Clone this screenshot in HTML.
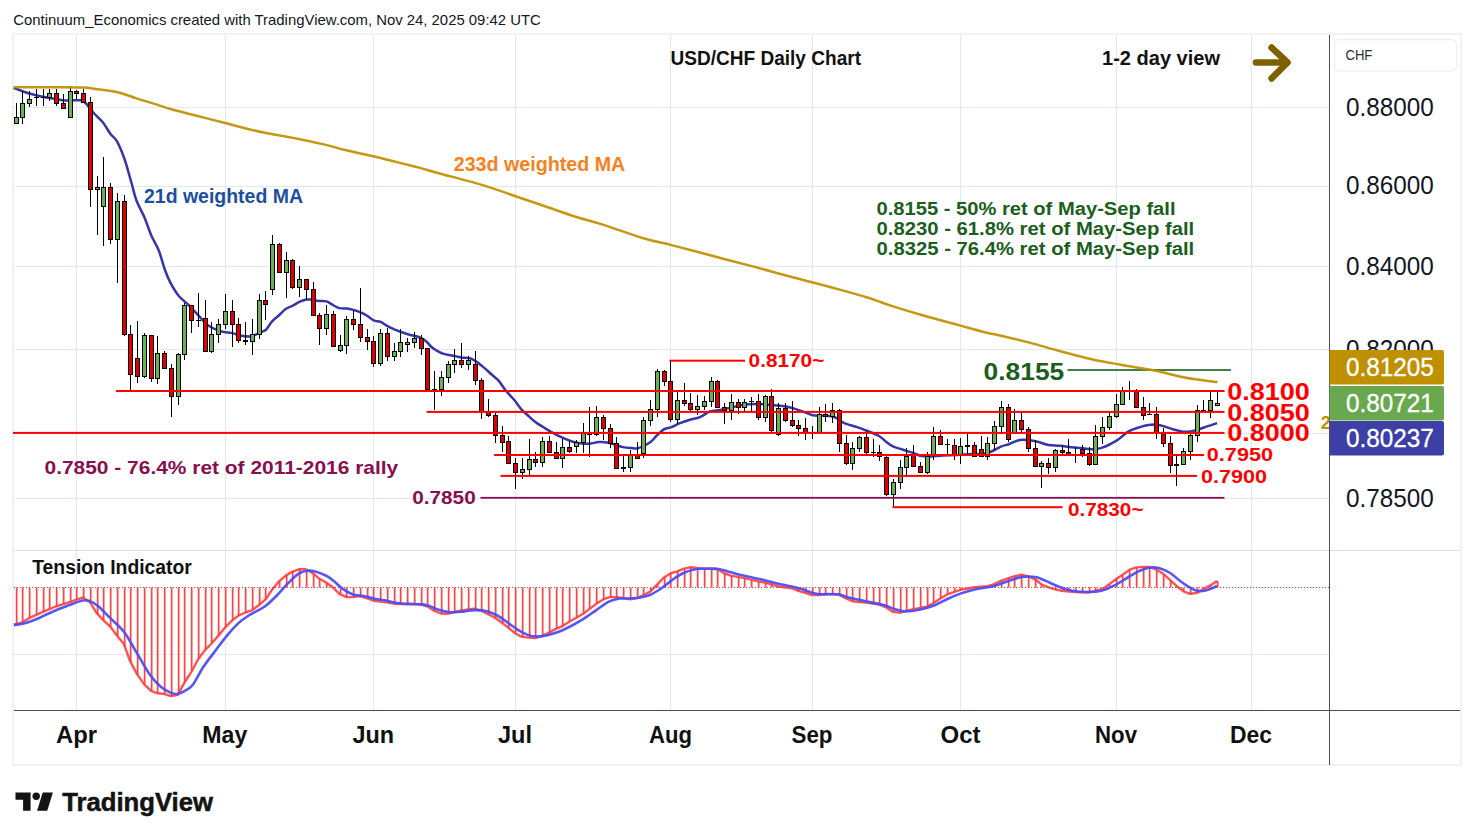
<!DOCTYPE html>
<html><head><meta charset="utf-8"><title>USD/CHF Daily Chart</title>
<style>
html,body{margin:0;padding:0;background:#fff;}
body{width:1474px;height:840px;overflow:hidden;font-family:"Liberation Sans",sans-serif;}
svg{display:block;position:absolute;left:0;top:0;}
svg text{font-family:"Liberation Sans",sans-serif;}
</style></head><body>
<svg width="1474" height="840" viewBox="0 0 1474 840" shape-rendering="auto">
<rect width="1474" height="840" fill="#ffffff"/>
<rect x="13" y="34" width="1448" height="731" fill="none" stroke="#f1f1f1" stroke-width="2"/>
<g shape-rendering="crispEdges">
<rect x="76" y="35" width="1" height="675" fill="#e1e8f0"/>
<rect x="225" y="35" width="1" height="675" fill="#e1e8f0"/>
<rect x="373" y="35" width="1" height="675" fill="#e1e8f0"/>
<rect x="515" y="35" width="1" height="675" fill="#e1e8f0"/>
<rect x="670" y="35" width="1" height="675" fill="#e1e8f0"/>
<rect x="812" y="35" width="1" height="675" fill="#e1e8f0"/>
<rect x="960" y="35" width="1" height="675" fill="#e1e8f0"/>
<rect x="1116" y="35" width="1" height="675" fill="#e1e8f0"/>
<rect x="1251" y="35" width="1" height="675" fill="#e1e8f0"/>
<rect x="14" y="107" width="1315" height="1" fill="#e1e8f0"/>
<rect x="14" y="186" width="1315" height="1" fill="#e1e8f0"/>
<rect x="14" y="266" width="1315" height="1" fill="#e1e8f0"/>
<rect x="14" y="349" width="1315" height="1" fill="#e1e8f0"/>
<rect x="14" y="433" width="1315" height="1" fill="#e1e8f0"/>
<rect x="14" y="498" width="1315" height="1" fill="#e1e8f0"/>
<rect x="14" y="550" width="1446" height="1" fill="#dbe0ec"/>
<rect x="14" y="654" width="1315" height="1" fill="#e1e8f0"/>
</g>
<path d="M13.6 87.8C16.1 88.7 23.5 91.8 28.6 93.3C33.7 94.8 39.3 96.0 44.0 97.0C48.7 98.0 53.5 98.7 57.0 99.3C60.5 99.9 60.9 100.3 65.0 100.5C69.1 100.7 78.0 99.8 81.5 100.3C85.0 100.8 83.8 101.2 85.7 103.2C87.6 105.2 90.2 109.1 93.0 112.3C95.8 115.5 99.9 118.7 102.8 122.3C105.7 125.9 108.1 130.8 110.5 134.0C112.9 137.2 114.7 137.1 117.0 141.3C119.3 145.5 122.1 152.1 124.5 159.0C126.9 165.9 129.5 176.1 131.5 183.0C133.5 189.9 134.3 194.6 136.4 200.3C138.5 206.0 141.8 211.2 144.3 217.1C146.8 223.0 149.0 230.2 151.4 235.7C153.8 241.2 156.3 244.3 158.6 250.0C160.9 255.7 163.0 264.5 165.0 270.0C167.0 275.5 168.2 278.6 170.5 282.9C172.8 287.2 175.6 292.0 178.6 295.7C181.6 299.4 185.3 301.7 188.6 305.0C191.9 308.3 195.3 312.2 198.6 315.7C201.9 319.1 204.8 323.1 208.6 325.7C212.4 328.3 217.6 330.2 221.4 331.4C225.2 332.6 228.1 332.2 231.4 332.9C234.7 333.6 238.1 335.1 241.4 335.7C244.7 336.3 248.3 337.0 251.4 336.4C254.5 335.8 257.6 333.4 260.0 332.3C262.4 331.2 263.7 331.8 265.7 330.0C267.7 328.2 269.8 323.9 272.1 321.4C274.4 318.9 277.0 317.1 279.3 315.0C281.6 312.9 283.4 310.6 285.7 309.0C288.0 307.4 290.6 306.9 292.9 305.7C295.2 304.5 297.1 302.9 299.3 301.9C301.6 300.9 304.4 300.0 306.4 299.6C308.4 299.2 309.4 299.4 311.4 299.6C313.4 299.8 316.1 300.7 318.6 301.0C321.1 301.3 324.0 300.7 326.4 301.4C328.8 302.1 330.8 303.9 332.9 305.0C335.0 306.1 336.9 307.5 339.3 308.1C341.7 308.7 344.7 308.3 347.1 308.6C349.5 308.9 351.3 309.4 353.6 310.0C355.9 310.6 358.4 311.4 360.7 312.4C362.9 313.3 365.0 314.4 367.1 315.7C369.2 317.0 371.3 319.3 373.6 320.3C375.9 321.3 378.4 321.0 380.7 321.9C382.9 322.8 384.8 324.7 387.1 325.9C389.4 327.1 392.0 328.3 394.3 329.3C396.6 330.3 398.4 330.9 400.7 331.7C403.0 332.5 405.6 333.6 407.9 334.3C410.2 335.0 412.1 335.2 414.3 335.8C416.6 336.4 419.3 337.1 421.4 338.2C423.5 339.3 425.5 340.9 427.1 342.3C428.7 343.7 429.6 345.2 431.0 346.5C432.4 347.8 433.7 348.8 435.7 350.0C437.7 351.2 440.0 352.7 442.9 353.6C445.8 354.6 449.8 355.1 452.9 355.7C456.0 356.3 458.5 357.0 461.4 357.4C464.2 357.8 467.4 357.5 470.0 358.3C472.6 359.1 474.7 360.5 477.1 362.1C479.5 363.7 481.9 365.9 484.3 367.9C486.7 369.9 489.0 372.2 491.4 374.3C493.8 376.4 496.2 378.0 498.6 380.7C501.0 383.4 503.1 387.3 505.7 390.5C508.3 393.7 511.7 396.9 514.3 400.0C516.9 403.1 519.1 406.7 521.4 409.3C523.7 411.9 525.6 413.3 528.0 415.5C530.4 417.7 533.2 420.4 535.7 422.3C538.2 424.2 540.4 425.4 543.0 427.0C545.6 428.6 548.1 430.3 551.4 432.1C554.7 433.9 559.3 436.3 562.9 437.9C566.5 439.5 569.6 440.8 572.9 441.7C576.2 442.6 580.0 443.3 582.9 443.6C585.8 443.9 587.4 443.9 590.0 443.6C592.6 443.4 595.8 442.3 598.6 442.1C601.5 441.9 604.5 442.0 607.1 442.4C609.7 442.8 611.7 443.5 614.3 444.3C616.9 445.1 620.0 446.5 622.9 447.1C625.8 447.7 629.0 447.9 631.4 448.1C633.8 448.3 635.1 448.8 637.1 448.4C639.1 448.0 641.3 447.1 643.5 446.0C645.7 444.9 648.2 443.9 650.5 442.1C652.8 440.3 654.8 437.4 657.1 435.2C659.4 433.0 661.9 430.5 664.3 429.1C666.7 427.8 668.8 428.1 671.4 427.1C674.0 426.1 676.9 424.3 680.0 423.1C683.1 421.9 686.7 420.7 690.0 419.7C693.3 418.7 696.7 418.5 700.0 417.1C703.3 415.7 706.7 412.6 710.0 411.4C713.3 410.2 716.7 410.6 720.0 410.0C723.3 409.4 726.9 408.6 730.0 407.9C733.1 407.2 735.5 406.3 738.6 405.7C741.7 405.1 745.3 404.6 748.6 404.3C751.9 404.0 755.3 403.9 758.6 404.0C761.9 404.1 765.3 404.4 768.6 404.7C771.9 405.0 775.5 405.4 778.6 405.7C781.7 406.0 784.5 406.2 787.1 406.7C789.7 407.2 791.4 407.7 794.3 408.6C797.2 409.5 801.2 411.0 804.3 412.1C807.4 413.2 810.0 414.7 812.9 415.3C815.8 415.9 818.3 415.5 821.4 415.7C824.5 415.9 828.8 415.9 831.4 416.3C834.0 416.7 835.0 417.2 837.1 418.3C839.2 419.4 841.0 421.6 844.3 423.1C847.6 424.6 853.0 425.7 857.1 427.1C861.2 428.5 865.0 430.0 868.6 431.4C872.2 432.8 875.8 434.0 878.6 435.7C881.5 437.4 883.3 439.6 885.7 441.4C888.1 443.2 890.0 445.0 892.9 446.4C895.8 447.8 899.6 448.6 902.9 449.7C906.2 450.8 909.8 451.8 912.9 452.9C916.0 453.9 918.3 455.4 921.4 456.0C924.5 456.6 927.8 456.5 931.4 456.4C935.0 456.3 938.6 455.6 942.9 455.4C947.2 455.2 952.4 455.2 957.1 455.0C961.9 454.8 967.1 454.2 971.4 454.0C975.7 453.8 979.6 454.4 982.9 454.0C986.2 453.6 988.3 452.8 991.4 451.5C994.5 450.2 998.5 447.6 1001.4 446.4C1004.3 445.2 1006.0 445.2 1008.6 444.3C1011.2 443.4 1014.7 441.5 1017.1 440.7C1019.5 439.9 1020.8 439.8 1022.9 439.7C1025.0 439.6 1027.4 439.8 1030.0 440.2C1032.6 440.6 1035.5 441.2 1038.6 442.0C1041.7 442.8 1045.0 444.4 1048.6 445.0C1052.2 445.6 1056.2 445.4 1060.0 445.8C1063.8 446.2 1067.6 446.8 1071.4 447.2C1075.2 447.6 1079.1 447.9 1082.9 448.3C1086.7 448.7 1091.2 449.4 1094.3 449.3C1097.4 449.2 1099.0 448.6 1101.4 447.9C1103.8 447.2 1105.7 446.4 1108.6 445.0C1111.5 443.6 1115.3 441.6 1118.6 439.3C1121.9 437.0 1125.0 433.4 1128.6 431.4C1132.2 429.4 1136.7 428.2 1140.0 427.1C1143.3 426.0 1145.8 425.4 1148.6 425.0C1151.4 424.6 1154.5 424.5 1157.1 424.7C1159.7 424.9 1161.7 425.6 1164.3 426.4C1166.9 427.2 1170.1 428.5 1172.9 429.3C1175.8 430.1 1178.6 431.0 1181.4 431.4C1184.2 431.8 1187.1 431.8 1190.0 431.4C1192.9 431.0 1195.8 430.1 1198.6 429.3C1201.4 428.5 1204.0 427.4 1207.1 426.4C1210.2 425.4 1215.4 423.7 1217.1 423.1" fill="none" stroke="#3636a8" stroke-width="2.5" stroke-linejoin="round" stroke-linecap="butt" />
<rect x="1067.5" y="369.2" width="163.5" height="1.6" fill="#1b5e20"/>
<g shape-rendering="crispEdges">
<rect x="16" y="103" width="1" height="20" fill="#000"/>
<rect x="14" y="117" width="5" height="7" fill="#000"/>
<rect x="15" y="118" width="3" height="5" fill="#6bb052"/>
<rect x="22" y="91" width="1" height="33" fill="#000"/>
<rect x="20" y="103" width="5" height="15" fill="#000"/>
<rect x="21" y="104" width="3" height="13" fill="#6bb052"/>
<rect x="29" y="91" width="1" height="16" fill="#000"/>
<rect x="27" y="99" width="5" height="5" fill="#000"/>
<rect x="28" y="100" width="3" height="3" fill="#6bb052"/>
<rect x="36" y="89" width="1" height="17" fill="#000"/>
<rect x="34" y="97" width="5" height="1" fill="#000"/>
<rect x="43" y="89" width="1" height="17" fill="#000"/>
<rect x="41" y="97" width="5" height="1" fill="#000"/>
<rect x="49" y="89" width="1" height="12" fill="#000"/>
<rect x="47" y="93" width="5" height="5" fill="#000"/>
<rect x="48" y="94" width="3" height="3" fill="#6bb052"/>
<rect x="56" y="89" width="1" height="17" fill="#000"/>
<rect x="54" y="93" width="5" height="11" fill="#000"/>
<rect x="55" y="94" width="3" height="9" fill="#e00000"/>
<rect x="63" y="94" width="1" height="14" fill="#000"/>
<rect x="61" y="103" width="5" height="6" fill="#000"/>
<rect x="62" y="104" width="3" height="4" fill="#e00000"/>
<rect x="70" y="86" width="1" height="31" fill="#000"/>
<rect x="68" y="91" width="5" height="27" fill="#000"/>
<rect x="69" y="92" width="3" height="25" fill="#6bb052"/>
<rect x="76" y="90" width="1" height="9" fill="#000"/>
<rect x="74" y="91" width="5" height="3" fill="#000"/>
<rect x="75" y="92" width="3" height="1" fill="#e00000"/>
<rect x="83" y="89" width="1" height="13" fill="#000"/>
<rect x="81" y="93" width="5" height="10" fill="#000"/>
<rect x="82" y="94" width="3" height="8" fill="#e00000"/>
<rect x="90" y="97" width="1" height="110" fill="#000"/>
<rect x="88" y="102" width="5" height="88" fill="#000"/>
<rect x="89" y="103" width="3" height="86" fill="#e00000"/>
<rect x="97" y="176" width="1" height="59" fill="#000"/>
<rect x="95" y="187" width="5" height="3" fill="#000"/>
<rect x="96" y="188" width="3" height="1" fill="#6bb052"/>
<rect x="103" y="157" width="1" height="89" fill="#000"/>
<rect x="101" y="187" width="5" height="20" fill="#000"/>
<rect x="102" y="188" width="3" height="18" fill="#6bb052"/>
<rect x="110" y="183" width="1" height="61" fill="#000"/>
<rect x="108" y="187" width="5" height="53" fill="#000"/>
<rect x="109" y="188" width="3" height="51" fill="#e00000"/>
<rect x="117" y="193" width="1" height="90" fill="#000"/>
<rect x="115" y="201" width="5" height="39" fill="#000"/>
<rect x="116" y="202" width="3" height="37" fill="#6bb052"/>
<rect x="124" y="195" width="1" height="141" fill="#000"/>
<rect x="122" y="201" width="5" height="134" fill="#000"/>
<rect x="123" y="202" width="3" height="132" fill="#e00000"/>
<rect x="130" y="325" width="1" height="65" fill="#000"/>
<rect x="128" y="334" width="5" height="41" fill="#000"/>
<rect x="129" y="335" width="3" height="39" fill="#e00000"/>
<rect x="137" y="321" width="1" height="62" fill="#000"/>
<rect x="135" y="358" width="5" height="19" fill="#000"/>
<rect x="136" y="359" width="3" height="17" fill="#e00000"/>
<rect x="144" y="333" width="1" height="45" fill="#000"/>
<rect x="142" y="335" width="5" height="42" fill="#000"/>
<rect x="143" y="336" width="3" height="40" fill="#6bb052"/>
<rect x="151" y="335" width="1" height="47" fill="#000"/>
<rect x="149" y="335" width="5" height="44" fill="#000"/>
<rect x="150" y="336" width="3" height="42" fill="#e00000"/>
<rect x="157" y="336" width="1" height="48" fill="#000"/>
<rect x="155" y="353" width="5" height="26" fill="#000"/>
<rect x="156" y="354" width="3" height="24" fill="#6bb052"/>
<rect x="164" y="351" width="1" height="17" fill="#000"/>
<rect x="162" y="353" width="5" height="16" fill="#000"/>
<rect x="163" y="354" width="3" height="14" fill="#e00000"/>
<rect x="171" y="364" width="1" height="53" fill="#000"/>
<rect x="169" y="368" width="5" height="29" fill="#000"/>
<rect x="170" y="369" width="3" height="27" fill="#e00000"/>
<rect x="178" y="353" width="1" height="52" fill="#000"/>
<rect x="176" y="354" width="5" height="43" fill="#000"/>
<rect x="177" y="355" width="3" height="41" fill="#6bb052"/>
<rect x="184" y="303" width="1" height="57" fill="#000"/>
<rect x="182" y="305" width="5" height="50" fill="#000"/>
<rect x="183" y="306" width="3" height="48" fill="#6bb052"/>
<rect x="191" y="305" width="1" height="28" fill="#000"/>
<rect x="189" y="305" width="5" height="16" fill="#000"/>
<rect x="190" y="306" width="3" height="14" fill="#e00000"/>
<rect x="198" y="293" width="1" height="34" fill="#000"/>
<rect x="196" y="320" width="5" height="1" fill="#000"/>
<rect x="205" y="300" width="1" height="51" fill="#000"/>
<rect x="203" y="318" width="5" height="34" fill="#000"/>
<rect x="204" y="319" width="3" height="32" fill="#e00000"/>
<rect x="211" y="322" width="1" height="31" fill="#000"/>
<rect x="209" y="334" width="5" height="18" fill="#000"/>
<rect x="210" y="335" width="3" height="16" fill="#6bb052"/>
<rect x="218" y="319" width="1" height="24" fill="#000"/>
<rect x="216" y="324" width="5" height="11" fill="#000"/>
<rect x="217" y="325" width="3" height="9" fill="#6bb052"/>
<rect x="225" y="294" width="1" height="35" fill="#000"/>
<rect x="223" y="311" width="5" height="14" fill="#000"/>
<rect x="224" y="312" width="3" height="12" fill="#6bb052"/>
<rect x="232" y="300" width="1" height="47" fill="#000"/>
<rect x="230" y="311" width="5" height="14" fill="#000"/>
<rect x="231" y="312" width="3" height="12" fill="#e00000"/>
<rect x="238" y="318" width="1" height="25" fill="#000"/>
<rect x="236" y="324" width="5" height="17" fill="#000"/>
<rect x="237" y="325" width="3" height="15" fill="#e00000"/>
<rect x="245" y="322" width="1" height="23" fill="#000"/>
<rect x="243" y="340" width="5" height="2" fill="#000"/>
<rect x="252" y="319" width="1" height="36" fill="#000"/>
<rect x="250" y="334" width="5" height="8" fill="#000"/>
<rect x="251" y="335" width="3" height="6" fill="#6bb052"/>
<rect x="259" y="294" width="1" height="45" fill="#000"/>
<rect x="257" y="300" width="5" height="35" fill="#000"/>
<rect x="258" y="301" width="3" height="33" fill="#6bb052"/>
<rect x="265" y="291" width="1" height="29" fill="#000"/>
<rect x="263" y="300" width="5" height="5" fill="#000"/>
<rect x="264" y="301" width="3" height="3" fill="#e00000"/>
<rect x="272" y="235" width="1" height="60" fill="#000"/>
<rect x="270" y="244" width="5" height="46" fill="#000"/>
<rect x="271" y="245" width="3" height="44" fill="#6bb052"/>
<rect x="279" y="243" width="1" height="29" fill="#000"/>
<rect x="277" y="244" width="5" height="29" fill="#000"/>
<rect x="278" y="245" width="3" height="27" fill="#e00000"/>
<rect x="286" y="252" width="1" height="46" fill="#000"/>
<rect x="284" y="260" width="5" height="13" fill="#000"/>
<rect x="285" y="261" width="3" height="11" fill="#6bb052"/>
<rect x="292" y="259" width="1" height="30" fill="#000"/>
<rect x="290" y="260" width="5" height="28" fill="#000"/>
<rect x="291" y="261" width="3" height="26" fill="#e00000"/>
<rect x="299" y="266" width="1" height="31" fill="#000"/>
<rect x="297" y="279" width="5" height="9" fill="#000"/>
<rect x="298" y="280" width="3" height="7" fill="#6bb052"/>
<rect x="306" y="280" width="1" height="20" fill="#000"/>
<rect x="304" y="279" width="5" height="11" fill="#000"/>
<rect x="305" y="280" width="3" height="9" fill="#e00000"/>
<rect x="313" y="282" width="1" height="33" fill="#000"/>
<rect x="311" y="289" width="5" height="27" fill="#000"/>
<rect x="312" y="290" width="3" height="25" fill="#e00000"/>
<rect x="319" y="313" width="1" height="32" fill="#000"/>
<rect x="317" y="315" width="5" height="14" fill="#000"/>
<rect x="318" y="316" width="3" height="12" fill="#e00000"/>
<rect x="326" y="305" width="1" height="30" fill="#000"/>
<rect x="324" y="314" width="5" height="15" fill="#000"/>
<rect x="325" y="315" width="3" height="13" fill="#6bb052"/>
<rect x="333" y="311" width="1" height="35" fill="#000"/>
<rect x="331" y="314" width="5" height="33" fill="#000"/>
<rect x="332" y="315" width="3" height="31" fill="#e00000"/>
<rect x="340" y="335" width="1" height="17" fill="#000"/>
<rect x="338" y="345" width="5" height="6" fill="#000"/>
<rect x="339" y="346" width="3" height="4" fill="#6bb052"/>
<rect x="346" y="316" width="1" height="38" fill="#000"/>
<rect x="344" y="319" width="5" height="27" fill="#000"/>
<rect x="345" y="320" width="3" height="25" fill="#6bb052"/>
<rect x="353" y="311" width="1" height="19" fill="#000"/>
<rect x="351" y="319" width="5" height="6" fill="#000"/>
<rect x="352" y="320" width="3" height="4" fill="#e00000"/>
<rect x="360" y="288" width="1" height="54" fill="#000"/>
<rect x="358" y="324" width="5" height="14" fill="#000"/>
<rect x="359" y="325" width="3" height="12" fill="#e00000"/>
<rect x="367" y="329" width="1" height="21" fill="#000"/>
<rect x="365" y="337" width="5" height="5" fill="#000"/>
<rect x="366" y="338" width="3" height="3" fill="#e00000"/>
<rect x="373" y="336" width="1" height="31" fill="#000"/>
<rect x="371" y="341" width="5" height="23" fill="#000"/>
<rect x="372" y="342" width="3" height="21" fill="#e00000"/>
<rect x="380" y="329" width="1" height="37" fill="#000"/>
<rect x="378" y="333" width="5" height="31" fill="#000"/>
<rect x="379" y="334" width="3" height="29" fill="#6bb052"/>
<rect x="387" y="328" width="1" height="33" fill="#000"/>
<rect x="385" y="333" width="5" height="24" fill="#000"/>
<rect x="386" y="334" width="3" height="22" fill="#e00000"/>
<rect x="394" y="343" width="1" height="18" fill="#000"/>
<rect x="392" y="351" width="5" height="6" fill="#000"/>
<rect x="393" y="352" width="3" height="4" fill="#6bb052"/>
<rect x="400" y="329" width="1" height="28" fill="#000"/>
<rect x="398" y="342" width="5" height="10" fill="#000"/>
<rect x="399" y="343" width="3" height="8" fill="#6bb052"/>
<rect x="407" y="338" width="1" height="14" fill="#000"/>
<rect x="405" y="342" width="5" height="3" fill="#000"/>
<rect x="406" y="343" width="3" height="1" fill="#6bb052"/>
<rect x="414" y="332" width="1" height="16" fill="#000"/>
<rect x="412" y="338" width="5" height="5" fill="#000"/>
<rect x="413" y="339" width="3" height="3" fill="#6bb052"/>
<rect x="421" y="335" width="1" height="20" fill="#000"/>
<rect x="419" y="338" width="5" height="11" fill="#000"/>
<rect x="420" y="339" width="3" height="9" fill="#e00000"/>
<rect x="427" y="348" width="1" height="42" fill="#000"/>
<rect x="425" y="348" width="5" height="42" fill="#000"/>
<rect x="426" y="349" width="3" height="40" fill="#e00000"/>
<rect x="434" y="371" width="1" height="39" fill="#000"/>
<rect x="432" y="389" width="5" height="1" fill="#000"/>
<rect x="441" y="371" width="1" height="25" fill="#000"/>
<rect x="439" y="377" width="5" height="13" fill="#000"/>
<rect x="440" y="378" width="3" height="11" fill="#6bb052"/>
<rect x="448" y="361" width="1" height="22" fill="#000"/>
<rect x="446" y="364" width="5" height="14" fill="#000"/>
<rect x="447" y="365" width="3" height="12" fill="#6bb052"/>
<rect x="454" y="349" width="1" height="24" fill="#000"/>
<rect x="452" y="360" width="5" height="5" fill="#000"/>
<rect x="453" y="361" width="3" height="3" fill="#6bb052"/>
<rect x="461" y="343" width="1" height="25" fill="#000"/>
<rect x="459" y="360" width="5" height="5" fill="#000"/>
<rect x="460" y="361" width="3" height="3" fill="#e00000"/>
<rect x="468" y="356" width="1" height="14" fill="#000"/>
<rect x="466" y="360" width="5" height="5" fill="#000"/>
<rect x="467" y="361" width="3" height="3" fill="#6bb052"/>
<rect x="475" y="351" width="1" height="34" fill="#000"/>
<rect x="473" y="364" width="5" height="17" fill="#000"/>
<rect x="474" y="365" width="3" height="15" fill="#e00000"/>
<rect x="481" y="378" width="1" height="41" fill="#000"/>
<rect x="479" y="380" width="5" height="32" fill="#000"/>
<rect x="480" y="381" width="3" height="30" fill="#e00000"/>
<rect x="488" y="399" width="1" height="18" fill="#000"/>
<rect x="486" y="411" width="5" height="5" fill="#000"/>
<rect x="487" y="412" width="3" height="3" fill="#e00000"/>
<rect x="495" y="413" width="1" height="30" fill="#000"/>
<rect x="493" y="415" width="5" height="21" fill="#000"/>
<rect x="494" y="416" width="3" height="19" fill="#e00000"/>
<rect x="502" y="426" width="1" height="26" fill="#000"/>
<rect x="500" y="435" width="5" height="8" fill="#000"/>
<rect x="501" y="436" width="3" height="6" fill="#e00000"/>
<rect x="508" y="436" width="1" height="28" fill="#000"/>
<rect x="506" y="441" width="5" height="23" fill="#000"/>
<rect x="507" y="442" width="3" height="21" fill="#e00000"/>
<rect x="515" y="458" width="1" height="31" fill="#000"/>
<rect x="513" y="463" width="5" height="10" fill="#000"/>
<rect x="514" y="464" width="3" height="8" fill="#e00000"/>
<rect x="522" y="458" width="1" height="21" fill="#000"/>
<rect x="520" y="469" width="5" height="4" fill="#000"/>
<rect x="521" y="470" width="3" height="2" fill="#6bb052"/>
<rect x="529" y="439" width="1" height="36" fill="#000"/>
<rect x="527" y="459" width="5" height="11" fill="#000"/>
<rect x="528" y="460" width="3" height="9" fill="#6bb052"/>
<rect x="535" y="452" width="1" height="15" fill="#000"/>
<rect x="533" y="459" width="5" height="4" fill="#000"/>
<rect x="534" y="460" width="3" height="2" fill="#e00000"/>
<rect x="542" y="437" width="1" height="30" fill="#000"/>
<rect x="540" y="441" width="5" height="22" fill="#000"/>
<rect x="541" y="442" width="3" height="20" fill="#6bb052"/>
<rect x="549" y="436" width="1" height="16" fill="#000"/>
<rect x="547" y="441" width="5" height="12" fill="#000"/>
<rect x="548" y="442" width="3" height="10" fill="#e00000"/>
<rect x="556" y="442" width="1" height="17" fill="#000"/>
<rect x="554" y="452" width="5" height="7" fill="#000"/>
<rect x="555" y="453" width="3" height="5" fill="#e00000"/>
<rect x="562" y="439" width="1" height="29" fill="#000"/>
<rect x="560" y="447" width="5" height="12" fill="#000"/>
<rect x="561" y="448" width="3" height="10" fill="#6bb052"/>
<rect x="569" y="441" width="1" height="12" fill="#000"/>
<rect x="567" y="447" width="5" height="5" fill="#000"/>
<rect x="568" y="448" width="3" height="3" fill="#e00000"/>
<rect x="576" y="440" width="1" height="13" fill="#000"/>
<rect x="574" y="442" width="5" height="5" fill="#000"/>
<rect x="575" y="443" width="3" height="3" fill="#6bb052"/>
<rect x="583" y="423" width="1" height="30" fill="#000"/>
<rect x="581" y="433" width="5" height="10" fill="#000"/>
<rect x="582" y="434" width="3" height="8" fill="#6bb052"/>
<rect x="589" y="407" width="1" height="50" fill="#000"/>
<rect x="587" y="434" width="5" height="1" fill="#000"/>
<rect x="596" y="406" width="1" height="30" fill="#000"/>
<rect x="594" y="417" width="5" height="18" fill="#000"/>
<rect x="595" y="418" width="3" height="16" fill="#6bb052"/>
<rect x="603" y="415" width="1" height="25" fill="#000"/>
<rect x="601" y="417" width="5" height="12" fill="#000"/>
<rect x="602" y="418" width="3" height="10" fill="#e00000"/>
<rect x="610" y="424" width="1" height="24" fill="#000"/>
<rect x="608" y="428" width="5" height="16" fill="#000"/>
<rect x="609" y="429" width="3" height="14" fill="#e00000"/>
<rect x="616" y="437" width="1" height="32" fill="#000"/>
<rect x="614" y="443" width="5" height="26" fill="#000"/>
<rect x="615" y="444" width="3" height="24" fill="#e00000"/>
<rect x="623" y="456" width="1" height="16" fill="#000"/>
<rect x="621" y="467" width="5" height="2" fill="#000"/>
<rect x="630" y="450" width="1" height="22" fill="#000"/>
<rect x="628" y="455" width="5" height="13" fill="#000"/>
<rect x="629" y="456" width="3" height="11" fill="#6bb052"/>
<rect x="637" y="442" width="1" height="17" fill="#000"/>
<rect x="635" y="455" width="5" height="4" fill="#000"/>
<rect x="636" y="456" width="3" height="2" fill="#e00000"/>
<rect x="643" y="417" width="1" height="41" fill="#000"/>
<rect x="641" y="420" width="5" height="34" fill="#000"/>
<rect x="642" y="421" width="3" height="32" fill="#6bb052"/>
<rect x="650" y="400" width="1" height="26" fill="#000"/>
<rect x="648" y="409" width="5" height="12" fill="#000"/>
<rect x="649" y="410" width="3" height="10" fill="#6bb052"/>
<rect x="657" y="369" width="1" height="48" fill="#000"/>
<rect x="655" y="371" width="5" height="39" fill="#000"/>
<rect x="656" y="372" width="3" height="37" fill="#6bb052"/>
<rect x="664" y="370" width="1" height="16" fill="#000"/>
<rect x="662" y="371" width="5" height="11" fill="#000"/>
<rect x="663" y="372" width="3" height="9" fill="#e00000"/>
<rect x="670" y="361" width="1" height="61" fill="#000"/>
<rect x="668" y="381" width="5" height="39" fill="#000"/>
<rect x="669" y="382" width="3" height="37" fill="#e00000"/>
<rect x="677" y="392" width="1" height="32" fill="#000"/>
<rect x="675" y="400" width="5" height="20" fill="#000"/>
<rect x="676" y="401" width="3" height="18" fill="#6bb052"/>
<rect x="684" y="383" width="1" height="23" fill="#000"/>
<rect x="682" y="400" width="5" height="4" fill="#000"/>
<rect x="683" y="401" width="3" height="2" fill="#e00000"/>
<rect x="690" y="393" width="1" height="18" fill="#000"/>
<rect x="688" y="403" width="5" height="7" fill="#000"/>
<rect x="689" y="404" width="3" height="5" fill="#e00000"/>
<rect x="697" y="395" width="1" height="20" fill="#000"/>
<rect x="695" y="406" width="5" height="4" fill="#000"/>
<rect x="696" y="407" width="3" height="2" fill="#6bb052"/>
<rect x="704" y="396" width="1" height="14" fill="#000"/>
<rect x="702" y="401" width="5" height="6" fill="#000"/>
<rect x="703" y="402" width="3" height="4" fill="#6bb052"/>
<rect x="711" y="377" width="1" height="30" fill="#000"/>
<rect x="709" y="381" width="5" height="21" fill="#000"/>
<rect x="710" y="382" width="3" height="19" fill="#6bb052"/>
<rect x="717" y="380" width="1" height="27" fill="#000"/>
<rect x="715" y="381" width="5" height="27" fill="#000"/>
<rect x="716" y="382" width="3" height="25" fill="#e00000"/>
<rect x="724" y="403" width="1" height="21" fill="#000"/>
<rect x="722" y="407" width="5" height="4" fill="#000"/>
<rect x="723" y="408" width="3" height="2" fill="#e00000"/>
<rect x="731" y="394" width="1" height="26" fill="#000"/>
<rect x="729" y="402" width="5" height="9" fill="#000"/>
<rect x="730" y="403" width="3" height="7" fill="#6bb052"/>
<rect x="738" y="399" width="1" height="15" fill="#000"/>
<rect x="736" y="402" width="5" height="6" fill="#000"/>
<rect x="737" y="403" width="3" height="4" fill="#e00000"/>
<rect x="744" y="399" width="1" height="12" fill="#000"/>
<rect x="742" y="402" width="5" height="6" fill="#000"/>
<rect x="743" y="403" width="3" height="4" fill="#6bb052"/>
<rect x="751" y="397" width="1" height="14" fill="#000"/>
<rect x="749" y="401" width="5" height="1" fill="#000"/>
<rect x="758" y="394" width="1" height="26" fill="#000"/>
<rect x="756" y="401" width="5" height="17" fill="#000"/>
<rect x="757" y="402" width="3" height="15" fill="#e00000"/>
<rect x="765" y="395" width="1" height="27" fill="#000"/>
<rect x="763" y="396" width="5" height="22" fill="#000"/>
<rect x="764" y="397" width="3" height="20" fill="#6bb052"/>
<rect x="771" y="389" width="1" height="43" fill="#000"/>
<rect x="769" y="396" width="5" height="35" fill="#000"/>
<rect x="770" y="397" width="3" height="33" fill="#e00000"/>
<rect x="778" y="403" width="1" height="33" fill="#000"/>
<rect x="776" y="408" width="5" height="27" fill="#000"/>
<rect x="777" y="409" width="3" height="25" fill="#6bb052"/>
<rect x="785" y="403" width="1" height="19" fill="#000"/>
<rect x="783" y="408" width="5" height="13" fill="#000"/>
<rect x="784" y="409" width="3" height="11" fill="#e00000"/>
<rect x="792" y="401" width="1" height="26" fill="#000"/>
<rect x="790" y="420" width="5" height="6" fill="#000"/>
<rect x="791" y="421" width="3" height="4" fill="#e00000"/>
<rect x="798" y="420" width="1" height="16" fill="#000"/>
<rect x="796" y="425" width="5" height="4" fill="#000"/>
<rect x="797" y="426" width="3" height="2" fill="#e00000"/>
<rect x="805" y="418" width="1" height="22" fill="#000"/>
<rect x="803" y="428" width="5" height="5" fill="#000"/>
<rect x="804" y="429" width="3" height="3" fill="#e00000"/>
<rect x="812" y="426" width="1" height="13" fill="#000"/>
<rect x="810" y="432" width="5" height="1" fill="#000"/>
<rect x="819" y="407" width="1" height="26" fill="#000"/>
<rect x="817" y="414" width="5" height="19" fill="#000"/>
<rect x="818" y="415" width="3" height="17" fill="#6bb052"/>
<rect x="825" y="404" width="1" height="18" fill="#000"/>
<rect x="823" y="414" width="5" height="3" fill="#000"/>
<rect x="824" y="415" width="3" height="1" fill="#e00000"/>
<rect x="832" y="403" width="1" height="20" fill="#000"/>
<rect x="830" y="410" width="5" height="7" fill="#000"/>
<rect x="831" y="411" width="3" height="5" fill="#6bb052"/>
<rect x="839" y="409" width="1" height="43" fill="#000"/>
<rect x="837" y="410" width="5" height="34" fill="#000"/>
<rect x="838" y="411" width="3" height="32" fill="#e00000"/>
<rect x="846" y="435" width="1" height="30" fill="#000"/>
<rect x="844" y="443" width="5" height="21" fill="#000"/>
<rect x="845" y="444" width="3" height="19" fill="#e00000"/>
<rect x="852" y="442" width="1" height="28" fill="#000"/>
<rect x="850" y="448" width="5" height="16" fill="#000"/>
<rect x="851" y="449" width="3" height="14" fill="#6bb052"/>
<rect x="859" y="436" width="1" height="16" fill="#000"/>
<rect x="857" y="437" width="5" height="12" fill="#000"/>
<rect x="858" y="438" width="3" height="10" fill="#6bb052"/>
<rect x="866" y="431" width="1" height="23" fill="#000"/>
<rect x="864" y="437" width="5" height="16" fill="#000"/>
<rect x="865" y="438" width="3" height="14" fill="#e00000"/>
<rect x="873" y="439" width="1" height="18" fill="#000"/>
<rect x="871" y="452" width="5" height="1" fill="#000"/>
<rect x="879" y="445" width="1" height="16" fill="#000"/>
<rect x="877" y="452" width="5" height="5" fill="#000"/>
<rect x="878" y="453" width="3" height="3" fill="#e00000"/>
<rect x="886" y="456" width="1" height="40" fill="#000"/>
<rect x="884" y="457" width="5" height="38" fill="#000"/>
<rect x="885" y="458" width="3" height="36" fill="#e00000"/>
<rect x="893" y="479" width="1" height="27" fill="#000"/>
<rect x="891" y="482" width="5" height="13" fill="#000"/>
<rect x="892" y="483" width="3" height="11" fill="#6bb052"/>
<rect x="900" y="460" width="1" height="29" fill="#000"/>
<rect x="898" y="467" width="5" height="16" fill="#000"/>
<rect x="899" y="468" width="3" height="14" fill="#6bb052"/>
<rect x="906" y="448" width="1" height="27" fill="#000"/>
<rect x="904" y="456" width="5" height="12" fill="#000"/>
<rect x="905" y="457" width="3" height="10" fill="#6bb052"/>
<rect x="913" y="445" width="1" height="21" fill="#000"/>
<rect x="911" y="455" width="5" height="12" fill="#000"/>
<rect x="912" y="456" width="3" height="10" fill="#e00000"/>
<rect x="920" y="462" width="1" height="11" fill="#000"/>
<rect x="918" y="466" width="5" height="7" fill="#000"/>
<rect x="919" y="467" width="3" height="5" fill="#e00000"/>
<rect x="927" y="452" width="1" height="22" fill="#000"/>
<rect x="925" y="456" width="5" height="17" fill="#000"/>
<rect x="926" y="457" width="3" height="15" fill="#6bb052"/>
<rect x="933" y="427" width="1" height="33" fill="#000"/>
<rect x="931" y="436" width="5" height="20" fill="#000"/>
<rect x="932" y="437" width="3" height="18" fill="#6bb052"/>
<rect x="940" y="430" width="1" height="14" fill="#000"/>
<rect x="938" y="436" width="5" height="9" fill="#000"/>
<rect x="939" y="437" width="3" height="7" fill="#e00000"/>
<rect x="947" y="439" width="1" height="15" fill="#000"/>
<rect x="945" y="444" width="5" height="1" fill="#000"/>
<rect x="954" y="439" width="1" height="21" fill="#000"/>
<rect x="952" y="445" width="5" height="11" fill="#000"/>
<rect x="953" y="446" width="3" height="9" fill="#e00000"/>
<rect x="960" y="438" width="1" height="26" fill="#000"/>
<rect x="958" y="446" width="5" height="10" fill="#000"/>
<rect x="959" y="447" width="3" height="8" fill="#6bb052"/>
<rect x="967" y="434" width="1" height="20" fill="#000"/>
<rect x="965" y="445" width="5" height="2" fill="#000"/>
<rect x="974" y="442" width="1" height="15" fill="#000"/>
<rect x="972" y="445" width="5" height="12" fill="#000"/>
<rect x="973" y="446" width="3" height="10" fill="#e00000"/>
<rect x="981" y="436" width="1" height="21" fill="#000"/>
<rect x="979" y="449" width="5" height="8" fill="#000"/>
<rect x="980" y="450" width="3" height="6" fill="#e00000"/>
<rect x="987" y="437" width="1" height="23" fill="#000"/>
<rect x="985" y="443" width="5" height="14" fill="#000"/>
<rect x="986" y="444" width="3" height="12" fill="#6bb052"/>
<rect x="994" y="421" width="1" height="29" fill="#000"/>
<rect x="992" y="426" width="5" height="18" fill="#000"/>
<rect x="993" y="427" width="3" height="16" fill="#6bb052"/>
<rect x="1001" y="401" width="1" height="31" fill="#000"/>
<rect x="999" y="407" width="5" height="20" fill="#000"/>
<rect x="1000" y="408" width="3" height="18" fill="#6bb052"/>
<rect x="1008" y="404" width="1" height="38" fill="#000"/>
<rect x="1006" y="407" width="5" height="33" fill="#000"/>
<rect x="1007" y="408" width="3" height="31" fill="#e00000"/>
<rect x="1014" y="409" width="1" height="24" fill="#000"/>
<rect x="1012" y="420" width="5" height="13" fill="#000"/>
<rect x="1013" y="421" width="3" height="11" fill="#6bb052"/>
<rect x="1021" y="413" width="1" height="19" fill="#000"/>
<rect x="1019" y="420" width="5" height="10" fill="#000"/>
<rect x="1020" y="421" width="3" height="8" fill="#e00000"/>
<rect x="1028" y="427" width="1" height="25" fill="#000"/>
<rect x="1026" y="429" width="5" height="20" fill="#000"/>
<rect x="1027" y="430" width="3" height="18" fill="#e00000"/>
<rect x="1035" y="440" width="1" height="26" fill="#000"/>
<rect x="1033" y="448" width="5" height="19" fill="#000"/>
<rect x="1034" y="449" width="3" height="17" fill="#e00000"/>
<rect x="1041" y="461" width="1" height="27" fill="#000"/>
<rect x="1039" y="463" width="5" height="4" fill="#000"/>
<rect x="1040" y="464" width="3" height="2" fill="#6bb052"/>
<rect x="1048" y="458" width="1" height="16" fill="#000"/>
<rect x="1046" y="463" width="5" height="5" fill="#000"/>
<rect x="1047" y="464" width="3" height="3" fill="#e00000"/>
<rect x="1055" y="449" width="1" height="23" fill="#000"/>
<rect x="1053" y="450" width="5" height="18" fill="#000"/>
<rect x="1054" y="451" width="3" height="16" fill="#6bb052"/>
<rect x="1062" y="445" width="1" height="9" fill="#000"/>
<rect x="1060" y="450" width="5" height="3" fill="#000"/>
<rect x="1061" y="451" width="3" height="1" fill="#e00000"/>
<rect x="1068" y="439" width="1" height="15" fill="#000"/>
<rect x="1066" y="452" width="5" height="3" fill="#000"/>
<rect x="1067" y="453" width="3" height="1" fill="#e00000"/>
<rect x="1075" y="447" width="1" height="16" fill="#000"/>
<rect x="1073" y="454" width="5" height="2" fill="#000"/>
<rect x="1082" y="445" width="1" height="12" fill="#000"/>
<rect x="1080" y="449" width="5" height="5" fill="#000"/>
<rect x="1081" y="450" width="3" height="3" fill="#e00000"/>
<rect x="1089" y="447" width="1" height="19" fill="#000"/>
<rect x="1087" y="453" width="5" height="12" fill="#000"/>
<rect x="1088" y="454" width="3" height="10" fill="#e00000"/>
<rect x="1095" y="425" width="1" height="40" fill="#000"/>
<rect x="1093" y="436" width="5" height="29" fill="#000"/>
<rect x="1094" y="437" width="3" height="27" fill="#6bb052"/>
<rect x="1102" y="417" width="1" height="27" fill="#000"/>
<rect x="1100" y="427" width="5" height="10" fill="#000"/>
<rect x="1101" y="428" width="3" height="8" fill="#6bb052"/>
<rect x="1109" y="413" width="1" height="17" fill="#000"/>
<rect x="1107" y="416" width="5" height="12" fill="#000"/>
<rect x="1108" y="417" width="3" height="10" fill="#6bb052"/>
<rect x="1116" y="394" width="1" height="24" fill="#000"/>
<rect x="1114" y="404" width="5" height="13" fill="#000"/>
<rect x="1115" y="405" width="3" height="11" fill="#6bb052"/>
<rect x="1122" y="387" width="1" height="17" fill="#000"/>
<rect x="1120" y="391" width="5" height="14" fill="#000"/>
<rect x="1121" y="392" width="3" height="12" fill="#6bb052"/>
<rect x="1129" y="381" width="1" height="19" fill="#000"/>
<rect x="1127" y="390" width="5" height="2" fill="#000"/>
<rect x="1136" y="389" width="1" height="18" fill="#000"/>
<rect x="1134" y="391" width="5" height="17" fill="#000"/>
<rect x="1135" y="392" width="3" height="15" fill="#e00000"/>
<rect x="1143" y="397" width="1" height="23" fill="#000"/>
<rect x="1141" y="407" width="5" height="9" fill="#000"/>
<rect x="1142" y="408" width="3" height="7" fill="#e00000"/>
<rect x="1149" y="403" width="1" height="12" fill="#000"/>
<rect x="1147" y="414" width="5" height="1" fill="#000"/>
<rect x="1156" y="407" width="1" height="32" fill="#000"/>
<rect x="1154" y="414" width="5" height="19" fill="#000"/>
<rect x="1155" y="415" width="3" height="17" fill="#e00000"/>
<rect x="1163" y="428" width="1" height="19" fill="#000"/>
<rect x="1161" y="433" width="5" height="11" fill="#000"/>
<rect x="1162" y="434" width="3" height="9" fill="#e00000"/>
<rect x="1170" y="436" width="1" height="37" fill="#000"/>
<rect x="1168" y="443" width="5" height="23" fill="#000"/>
<rect x="1169" y="444" width="3" height="21" fill="#e00000"/>
<rect x="1176" y="456" width="1" height="30" fill="#000"/>
<rect x="1174" y="464" width="5" height="2" fill="#000"/>
<rect x="1183" y="448" width="1" height="16" fill="#000"/>
<rect x="1181" y="451" width="5" height="14" fill="#000"/>
<rect x="1182" y="452" width="3" height="12" fill="#6bb052"/>
<rect x="1190" y="434" width="1" height="26" fill="#000"/>
<rect x="1188" y="435" width="5" height="17" fill="#000"/>
<rect x="1189" y="436" width="3" height="15" fill="#6bb052"/>
<rect x="1197" y="405" width="1" height="37" fill="#000"/>
<rect x="1195" y="410" width="5" height="26" fill="#000"/>
<rect x="1196" y="411" width="3" height="24" fill="#6bb052"/>
<rect x="1203" y="400" width="1" height="11" fill="#000"/>
<rect x="1201" y="410" width="5" height="1" fill="#000"/>
<rect x="1210" y="392" width="1" height="26" fill="#000"/>
<rect x="1208" y="400" width="5" height="11" fill="#000"/>
<rect x="1209" y="401" width="3" height="9" fill="#6bb052"/>
<rect x="1217" y="392" width="1" height="13" fill="#000"/>
<rect x="1215" y="403" width="5" height="3" fill="#000"/>
<rect x="1216" y="404" width="3" height="1" fill="#6bb052"/>
</g>
<path d="M13.6 87.2C19.7 87.2 38.4 87.2 50.0 87.3C61.6 87.4 75.3 87.3 82.9 87.6C90.5 87.9 91.2 88.4 95.7 88.9C100.2 89.5 105.7 90.2 110.0 90.9C114.3 91.6 117.1 92.0 121.4 93.2C125.7 94.4 130.4 96.4 135.7 98.1C140.9 99.8 146.9 101.5 152.9 103.4C158.9 105.3 164.3 107.3 171.4 109.3C178.5 111.3 186.8 113.2 195.7 115.5C204.6 117.8 216.4 120.8 225.1 123.0C233.8 125.2 241.2 127.4 247.9 129.0C254.6 130.6 256.9 131.1 265.0 132.7C273.1 134.3 286.3 136.4 296.3 138.4C306.3 140.4 317.2 142.8 324.8 144.6C332.4 146.4 333.8 147.2 341.9 149.2C350.0 151.1 363.7 154.1 373.2 156.3C382.7 158.5 391.1 160.7 398.9 162.6C406.7 164.5 413.1 166.1 420.0 167.9C426.9 169.8 429.9 170.8 440.6 173.7C451.3 176.6 471.8 181.8 484.3 185.6C496.8 189.3 505.6 192.8 515.5 196.2C525.4 199.6 533.7 202.4 543.6 205.8C553.5 209.2 564.9 213.4 574.8 216.5C584.7 219.6 591.5 221.0 602.9 224.6C614.3 228.2 632.1 234.9 643.4 238.3C654.7 241.7 659.1 242.0 670.6 244.9C682.1 247.8 698.4 252.2 712.1 255.8C725.8 259.4 740.2 263.1 752.7 266.4C765.2 269.7 777.1 273.1 787.0 275.8C796.9 278.5 803.7 280.1 812.0 282.3C820.3 284.5 827.6 286.3 837.0 288.9C846.4 291.5 858.8 294.8 868.1 297.7C877.5 300.6 883.7 303.4 893.1 306.4C902.5 309.4 913.4 312.7 924.3 315.8C935.2 318.9 948.7 322.4 958.6 325.1C968.5 327.8 975.8 330.1 983.6 332.0C991.4 333.9 997.6 334.9 1005.4 336.7C1013.2 338.5 1021.6 340.6 1030.4 342.9C1039.2 345.2 1048.1 347.9 1058.5 350.7C1068.9 353.5 1082.4 357.1 1092.8 359.5C1103.2 361.9 1111.0 363.0 1120.9 364.8C1130.8 366.6 1141.7 368.0 1152.1 370.1C1162.5 372.2 1175.5 375.7 1183.3 377.3C1191.1 378.9 1193.2 379.0 1198.9 379.8C1204.6 380.6 1214.4 381.7 1217.5 382.1" fill="none" stroke="#bf9000" stroke-width="2.5" stroke-linejoin="round" stroke-linecap="butt" opacity="0.93"/>
<rect x="480.5" y="496.90000000000003" width="744.0" height="1.8" fill="#880e4f"/>
<rect x="116" y="390.0" width="1108.5" height="2" fill="#ff0000"/>
<rect x="426.5" y="410.9" width="798.0" height="2" fill="#ff0000"/>
<rect x="13" y="431.9" width="1211.5" height="2" fill="#ff0000"/>
<rect x="494" y="454.0" width="710" height="2" fill="#ff0000"/>
<rect x="500.5" y="474.9" width="696.5" height="2" fill="#ff0000"/>
<rect x="892.5" y="506.2" width="170.0" height="2" fill="#ff0000"/>
<rect x="669.5" y="359.7" width="75.5" height="2" fill="#ff0000"/>
<g shape-rendering="crispEdges">
<rect x="14" y="587" width="1" height="1" fill="#ff2020"/>
<rect x="17" y="587" width="1" height="1" fill="#ff2020"/>
<rect x="20" y="587" width="1" height="1" fill="#ff2020"/>
<rect x="23" y="587" width="1" height="1" fill="#ff2020"/>
<rect x="26" y="587" width="1" height="1" fill="#ff2020"/>
<rect x="29" y="587" width="1" height="1" fill="#ff2020"/>
<rect x="32" y="587" width="1" height="1" fill="#ff2020"/>
<rect x="35" y="587" width="1" height="1" fill="#ff2020"/>
<rect x="38" y="587" width="1" height="1" fill="#ff2020"/>
<rect x="41" y="587" width="1" height="1" fill="#ff2020"/>
<rect x="44" y="587" width="1" height="1" fill="#ff2020"/>
<rect x="47" y="587" width="1" height="1" fill="#ff2020"/>
<rect x="50" y="587" width="1" height="1" fill="#ff2020"/>
<rect x="53" y="587" width="1" height="1" fill="#ff2020"/>
<rect x="56" y="587" width="1" height="1" fill="#ff2020"/>
<rect x="59" y="587" width="1" height="1" fill="#ff2020"/>
<rect x="62" y="587" width="1" height="1" fill="#ff2020"/>
<rect x="65" y="587" width="1" height="1" fill="#ff2020"/>
<rect x="68" y="587" width="1" height="1" fill="#ff2020"/>
<rect x="71" y="587" width="1" height="1" fill="#ff2020"/>
<rect x="74" y="587" width="1" height="1" fill="#ff2020"/>
<rect x="77" y="587" width="1" height="1" fill="#ff2020"/>
<rect x="80" y="587" width="1" height="1" fill="#ff2020"/>
<rect x="83" y="587" width="1" height="1" fill="#ff2020"/>
<rect x="86" y="587" width="1" height="1" fill="#ff2020"/>
<rect x="89" y="587" width="1" height="1" fill="#ff2020"/>
<rect x="92" y="587" width="1" height="1" fill="#ff2020"/>
<rect x="95" y="587" width="1" height="1" fill="#ff2020"/>
<rect x="98" y="587" width="1" height="1" fill="#ff2020"/>
<rect x="101" y="587" width="1" height="1" fill="#ff2020"/>
<rect x="104" y="587" width="1" height="1" fill="#ff2020"/>
<rect x="107" y="587" width="1" height="1" fill="#ff2020"/>
<rect x="110" y="587" width="1" height="1" fill="#ff2020"/>
<rect x="113" y="587" width="1" height="1" fill="#ff2020"/>
<rect x="116" y="587" width="1" height="1" fill="#ff2020"/>
<rect x="119" y="587" width="1" height="1" fill="#ff2020"/>
<rect x="122" y="587" width="1" height="1" fill="#ff2020"/>
<rect x="125" y="587" width="1" height="1" fill="#ff2020"/>
<rect x="128" y="587" width="1" height="1" fill="#ff2020"/>
<rect x="131" y="587" width="1" height="1" fill="#ff2020"/>
<rect x="134" y="587" width="1" height="1" fill="#ff2020"/>
<rect x="137" y="587" width="1" height="1" fill="#ff2020"/>
<rect x="140" y="587" width="1" height="1" fill="#ff2020"/>
<rect x="143" y="587" width="1" height="1" fill="#ff2020"/>
<rect x="146" y="587" width="1" height="1" fill="#ff2020"/>
<rect x="149" y="587" width="1" height="1" fill="#ff2020"/>
<rect x="152" y="587" width="1" height="1" fill="#ff2020"/>
<rect x="155" y="587" width="1" height="1" fill="#ff2020"/>
<rect x="158" y="587" width="1" height="1" fill="#ff2020"/>
<rect x="161" y="587" width="1" height="1" fill="#ff2020"/>
<rect x="164" y="587" width="1" height="1" fill="#ff2020"/>
<rect x="167" y="587" width="1" height="1" fill="#ff2020"/>
<rect x="170" y="587" width="1" height="1" fill="#ff2020"/>
<rect x="173" y="587" width="1" height="1" fill="#ff2020"/>
<rect x="176" y="587" width="1" height="1" fill="#ff2020"/>
<rect x="179" y="587" width="1" height="1" fill="#ff2020"/>
<rect x="182" y="587" width="1" height="1" fill="#ff2020"/>
<rect x="185" y="587" width="1" height="1" fill="#ff2020"/>
<rect x="188" y="587" width="1" height="1" fill="#ff2020"/>
<rect x="191" y="587" width="1" height="1" fill="#ff2020"/>
<rect x="194" y="587" width="1" height="1" fill="#ff2020"/>
<rect x="197" y="587" width="1" height="1" fill="#ff2020"/>
<rect x="200" y="587" width="1" height="1" fill="#ff2020"/>
<rect x="203" y="587" width="1" height="1" fill="#ff2020"/>
<rect x="206" y="587" width="1" height="1" fill="#ff2020"/>
<rect x="209" y="587" width="1" height="1" fill="#ff2020"/>
<rect x="212" y="587" width="1" height="1" fill="#ff2020"/>
<rect x="215" y="587" width="1" height="1" fill="#ff2020"/>
<rect x="218" y="587" width="1" height="1" fill="#ff2020"/>
<rect x="221" y="587" width="1" height="1" fill="#ff2020"/>
<rect x="224" y="587" width="1" height="1" fill="#ff2020"/>
<rect x="227" y="587" width="1" height="1" fill="#ff2020"/>
<rect x="230" y="587" width="1" height="1" fill="#ff2020"/>
<rect x="233" y="587" width="1" height="1" fill="#ff2020"/>
<rect x="236" y="587" width="1" height="1" fill="#ff2020"/>
<rect x="239" y="587" width="1" height="1" fill="#ff2020"/>
<rect x="242" y="587" width="1" height="1" fill="#ff2020"/>
<rect x="245" y="587" width="1" height="1" fill="#ff2020"/>
<rect x="248" y="587" width="1" height="1" fill="#ff2020"/>
<rect x="251" y="587" width="1" height="1" fill="#ff2020"/>
<rect x="254" y="587" width="1" height="1" fill="#ff2020"/>
<rect x="257" y="587" width="1" height="1" fill="#ff2020"/>
<rect x="260" y="587" width="1" height="1" fill="#ff2020"/>
<rect x="263" y="587" width="1" height="1" fill="#ff2020"/>
<rect x="266" y="587" width="1" height="1" fill="#ff2020"/>
<rect x="269" y="587" width="1" height="1" fill="#ff2020"/>
<rect x="272" y="587" width="1" height="1" fill="#ff2020"/>
<rect x="275" y="587" width="1" height="1" fill="#ff2020"/>
<rect x="278" y="587" width="1" height="1" fill="#ff2020"/>
<rect x="281" y="587" width="1" height="1" fill="#ff2020"/>
<rect x="284" y="587" width="1" height="1" fill="#ff2020"/>
<rect x="287" y="587" width="1" height="1" fill="#ff2020"/>
<rect x="290" y="587" width="1" height="1" fill="#ff2020"/>
<rect x="293" y="587" width="1" height="1" fill="#ff2020"/>
<rect x="296" y="587" width="1" height="1" fill="#ff2020"/>
<rect x="299" y="587" width="1" height="1" fill="#ff2020"/>
<rect x="302" y="587" width="1" height="1" fill="#ff2020"/>
<rect x="305" y="587" width="1" height="1" fill="#ff2020"/>
<rect x="308" y="587" width="1" height="1" fill="#ff2020"/>
<rect x="311" y="587" width="1" height="1" fill="#ff2020"/>
<rect x="314" y="587" width="1" height="1" fill="#ff2020"/>
<rect x="317" y="587" width="1" height="1" fill="#ff2020"/>
<rect x="320" y="587" width="1" height="1" fill="#ff2020"/>
<rect x="323" y="587" width="1" height="1" fill="#ff2020"/>
<rect x="326" y="587" width="1" height="1" fill="#ff2020"/>
<rect x="329" y="587" width="1" height="1" fill="#ff2020"/>
<rect x="332" y="587" width="1" height="1" fill="#ff2020"/>
<rect x="335" y="587" width="1" height="1" fill="#ff2020"/>
<rect x="338" y="587" width="1" height="1" fill="#ff2020"/>
<rect x="341" y="587" width="1" height="1" fill="#ff2020"/>
<rect x="344" y="587" width="1" height="1" fill="#ff2020"/>
<rect x="347" y="587" width="1" height="1" fill="#ff2020"/>
<rect x="350" y="587" width="1" height="1" fill="#ff2020"/>
<rect x="353" y="587" width="1" height="1" fill="#ff2020"/>
<rect x="356" y="587" width="1" height="1" fill="#ff2020"/>
<rect x="359" y="587" width="1" height="1" fill="#ff2020"/>
<rect x="362" y="587" width="1" height="1" fill="#ff2020"/>
<rect x="365" y="587" width="1" height="1" fill="#ff2020"/>
<rect x="368" y="587" width="1" height="1" fill="#ff2020"/>
<rect x="371" y="587" width="1" height="1" fill="#ff2020"/>
<rect x="374" y="587" width="1" height="1" fill="#ff2020"/>
<rect x="377" y="587" width="1" height="1" fill="#ff2020"/>
<rect x="380" y="587" width="1" height="1" fill="#ff2020"/>
<rect x="383" y="587" width="1" height="1" fill="#ff2020"/>
<rect x="386" y="587" width="1" height="1" fill="#ff2020"/>
<rect x="389" y="587" width="1" height="1" fill="#ff2020"/>
<rect x="392" y="587" width="1" height="1" fill="#ff2020"/>
<rect x="395" y="587" width="1" height="1" fill="#ff2020"/>
<rect x="398" y="587" width="1" height="1" fill="#ff2020"/>
<rect x="401" y="587" width="1" height="1" fill="#ff2020"/>
<rect x="404" y="587" width="1" height="1" fill="#ff2020"/>
<rect x="407" y="587" width="1" height="1" fill="#ff2020"/>
<rect x="410" y="587" width="1" height="1" fill="#ff2020"/>
<rect x="413" y="587" width="1" height="1" fill="#ff2020"/>
<rect x="416" y="587" width="1" height="1" fill="#ff2020"/>
<rect x="419" y="587" width="1" height="1" fill="#ff2020"/>
<rect x="422" y="587" width="1" height="1" fill="#ff2020"/>
<rect x="425" y="587" width="1" height="1" fill="#ff2020"/>
<rect x="428" y="587" width="1" height="1" fill="#ff2020"/>
<rect x="431" y="587" width="1" height="1" fill="#ff2020"/>
<rect x="434" y="587" width="1" height="1" fill="#ff2020"/>
<rect x="437" y="587" width="1" height="1" fill="#ff2020"/>
<rect x="440" y="587" width="1" height="1" fill="#ff2020"/>
<rect x="443" y="587" width="1" height="1" fill="#ff2020"/>
<rect x="446" y="587" width="1" height="1" fill="#ff2020"/>
<rect x="449" y="587" width="1" height="1" fill="#ff2020"/>
<rect x="452" y="587" width="1" height="1" fill="#ff2020"/>
<rect x="455" y="587" width="1" height="1" fill="#ff2020"/>
<rect x="458" y="587" width="1" height="1" fill="#ff2020"/>
<rect x="461" y="587" width="1" height="1" fill="#ff2020"/>
<rect x="464" y="587" width="1" height="1" fill="#ff2020"/>
<rect x="467" y="587" width="1" height="1" fill="#ff2020"/>
<rect x="470" y="587" width="1" height="1" fill="#ff2020"/>
<rect x="473" y="587" width="1" height="1" fill="#ff2020"/>
<rect x="476" y="587" width="1" height="1" fill="#ff2020"/>
<rect x="479" y="587" width="1" height="1" fill="#ff2020"/>
<rect x="482" y="587" width="1" height="1" fill="#ff2020"/>
<rect x="485" y="587" width="1" height="1" fill="#ff2020"/>
<rect x="488" y="587" width="1" height="1" fill="#ff2020"/>
<rect x="491" y="587" width="1" height="1" fill="#ff2020"/>
<rect x="494" y="587" width="1" height="1" fill="#ff2020"/>
<rect x="497" y="587" width="1" height="1" fill="#ff2020"/>
<rect x="500" y="587" width="1" height="1" fill="#ff2020"/>
<rect x="503" y="587" width="1" height="1" fill="#ff2020"/>
<rect x="506" y="587" width="1" height="1" fill="#ff2020"/>
<rect x="509" y="587" width="1" height="1" fill="#ff2020"/>
<rect x="512" y="587" width="1" height="1" fill="#ff2020"/>
<rect x="515" y="587" width="1" height="1" fill="#ff2020"/>
<rect x="518" y="587" width="1" height="1" fill="#ff2020"/>
<rect x="521" y="587" width="1" height="1" fill="#ff2020"/>
<rect x="524" y="587" width="1" height="1" fill="#ff2020"/>
<rect x="527" y="587" width="1" height="1" fill="#ff2020"/>
<rect x="530" y="587" width="1" height="1" fill="#ff2020"/>
<rect x="533" y="587" width="1" height="1" fill="#ff2020"/>
<rect x="536" y="587" width="1" height="1" fill="#ff2020"/>
<rect x="539" y="587" width="1" height="1" fill="#ff2020"/>
<rect x="542" y="587" width="1" height="1" fill="#ff2020"/>
<rect x="545" y="587" width="1" height="1" fill="#ff2020"/>
<rect x="548" y="587" width="1" height="1" fill="#ff2020"/>
<rect x="551" y="587" width="1" height="1" fill="#ff2020"/>
<rect x="554" y="587" width="1" height="1" fill="#ff2020"/>
<rect x="557" y="587" width="1" height="1" fill="#ff2020"/>
<rect x="560" y="587" width="1" height="1" fill="#ff2020"/>
<rect x="563" y="587" width="1" height="1" fill="#ff2020"/>
<rect x="566" y="587" width="1" height="1" fill="#ff2020"/>
<rect x="569" y="587" width="1" height="1" fill="#ff2020"/>
<rect x="572" y="587" width="1" height="1" fill="#ff2020"/>
<rect x="575" y="587" width="1" height="1" fill="#ff2020"/>
<rect x="578" y="587" width="1" height="1" fill="#ff2020"/>
<rect x="581" y="587" width="1" height="1" fill="#ff2020"/>
<rect x="584" y="587" width="1" height="1" fill="#ff2020"/>
<rect x="587" y="587" width="1" height="1" fill="#ff2020"/>
<rect x="590" y="587" width="1" height="1" fill="#ff2020"/>
<rect x="593" y="587" width="1" height="1" fill="#ff2020"/>
<rect x="596" y="587" width="1" height="1" fill="#ff2020"/>
<rect x="599" y="587" width="1" height="1" fill="#ff2020"/>
<rect x="602" y="587" width="1" height="1" fill="#ff2020"/>
<rect x="605" y="587" width="1" height="1" fill="#ff2020"/>
<rect x="608" y="587" width="1" height="1" fill="#ff2020"/>
<rect x="611" y="587" width="1" height="1" fill="#ff2020"/>
<rect x="614" y="587" width="1" height="1" fill="#ff2020"/>
<rect x="617" y="587" width="1" height="1" fill="#ff2020"/>
<rect x="620" y="587" width="1" height="1" fill="#ff2020"/>
<rect x="623" y="587" width="1" height="1" fill="#ff2020"/>
<rect x="626" y="587" width="1" height="1" fill="#ff2020"/>
<rect x="629" y="587" width="1" height="1" fill="#ff2020"/>
<rect x="632" y="587" width="1" height="1" fill="#ff2020"/>
<rect x="635" y="587" width="1" height="1" fill="#ff2020"/>
<rect x="638" y="587" width="1" height="1" fill="#ff2020"/>
<rect x="641" y="587" width="1" height="1" fill="#ff2020"/>
<rect x="644" y="587" width="1" height="1" fill="#ff2020"/>
<rect x="647" y="587" width="1" height="1" fill="#ff2020"/>
<rect x="650" y="587" width="1" height="1" fill="#ff2020"/>
<rect x="653" y="587" width="1" height="1" fill="#ff2020"/>
<rect x="656" y="587" width="1" height="1" fill="#ff2020"/>
<rect x="659" y="587" width="1" height="1" fill="#ff2020"/>
<rect x="662" y="587" width="1" height="1" fill="#ff2020"/>
<rect x="665" y="587" width="1" height="1" fill="#ff2020"/>
<rect x="668" y="587" width="1" height="1" fill="#ff2020"/>
<rect x="671" y="587" width="1" height="1" fill="#ff2020"/>
<rect x="674" y="587" width="1" height="1" fill="#ff2020"/>
<rect x="677" y="587" width="1" height="1" fill="#ff2020"/>
<rect x="680" y="587" width="1" height="1" fill="#ff2020"/>
<rect x="683" y="587" width="1" height="1" fill="#ff2020"/>
<rect x="686" y="587" width="1" height="1" fill="#ff2020"/>
<rect x="689" y="587" width="1" height="1" fill="#ff2020"/>
<rect x="692" y="587" width="1" height="1" fill="#ff2020"/>
<rect x="695" y="587" width="1" height="1" fill="#ff2020"/>
<rect x="698" y="587" width="1" height="1" fill="#ff2020"/>
<rect x="701" y="587" width="1" height="1" fill="#ff2020"/>
<rect x="704" y="587" width="1" height="1" fill="#ff2020"/>
<rect x="707" y="587" width="1" height="1" fill="#ff2020"/>
<rect x="710" y="587" width="1" height="1" fill="#ff2020"/>
<rect x="713" y="587" width="1" height="1" fill="#ff2020"/>
<rect x="716" y="587" width="1" height="1" fill="#ff2020"/>
<rect x="719" y="587" width="1" height="1" fill="#ff2020"/>
<rect x="722" y="587" width="1" height="1" fill="#ff2020"/>
<rect x="725" y="587" width="1" height="1" fill="#ff2020"/>
<rect x="728" y="587" width="1" height="1" fill="#ff2020"/>
<rect x="731" y="587" width="1" height="1" fill="#ff2020"/>
<rect x="734" y="587" width="1" height="1" fill="#ff2020"/>
<rect x="737" y="587" width="1" height="1" fill="#ff2020"/>
<rect x="740" y="587" width="1" height="1" fill="#ff2020"/>
<rect x="743" y="587" width="1" height="1" fill="#ff2020"/>
<rect x="746" y="587" width="1" height="1" fill="#ff2020"/>
<rect x="749" y="587" width="1" height="1" fill="#ff2020"/>
<rect x="752" y="587" width="1" height="1" fill="#ff2020"/>
<rect x="755" y="587" width="1" height="1" fill="#ff2020"/>
<rect x="758" y="587" width="1" height="1" fill="#ff2020"/>
<rect x="761" y="587" width="1" height="1" fill="#ff2020"/>
<rect x="764" y="587" width="1" height="1" fill="#ff2020"/>
<rect x="767" y="587" width="1" height="1" fill="#ff2020"/>
<rect x="770" y="587" width="1" height="1" fill="#ff2020"/>
<rect x="773" y="587" width="1" height="1" fill="#ff2020"/>
<rect x="776" y="587" width="1" height="1" fill="#ff2020"/>
<rect x="779" y="587" width="1" height="1" fill="#ff2020"/>
<rect x="782" y="587" width="1" height="1" fill="#ff2020"/>
<rect x="785" y="587" width="1" height="1" fill="#ff2020"/>
<rect x="788" y="587" width="1" height="1" fill="#ff2020"/>
<rect x="791" y="587" width="1" height="1" fill="#ff2020"/>
<rect x="794" y="587" width="1" height="1" fill="#ff2020"/>
<rect x="797" y="587" width="1" height="1" fill="#ff2020"/>
<rect x="800" y="587" width="1" height="1" fill="#ff2020"/>
<rect x="803" y="587" width="1" height="1" fill="#ff2020"/>
<rect x="806" y="587" width="1" height="1" fill="#ff2020"/>
<rect x="809" y="587" width="1" height="1" fill="#ff2020"/>
<rect x="812" y="587" width="1" height="1" fill="#ff2020"/>
<rect x="815" y="587" width="1" height="1" fill="#ff2020"/>
<rect x="818" y="587" width="1" height="1" fill="#ff2020"/>
<rect x="821" y="587" width="1" height="1" fill="#ff2020"/>
<rect x="824" y="587" width="1" height="1" fill="#ff2020"/>
<rect x="827" y="587" width="1" height="1" fill="#ff2020"/>
<rect x="830" y="587" width="1" height="1" fill="#ff2020"/>
<rect x="833" y="587" width="1" height="1" fill="#ff2020"/>
<rect x="836" y="587" width="1" height="1" fill="#ff2020"/>
<rect x="839" y="587" width="1" height="1" fill="#ff2020"/>
<rect x="842" y="587" width="1" height="1" fill="#ff2020"/>
<rect x="845" y="587" width="1" height="1" fill="#ff2020"/>
<rect x="848" y="587" width="1" height="1" fill="#ff2020"/>
<rect x="851" y="587" width="1" height="1" fill="#ff2020"/>
<rect x="854" y="587" width="1" height="1" fill="#ff2020"/>
<rect x="857" y="587" width="1" height="1" fill="#ff2020"/>
<rect x="860" y="587" width="1" height="1" fill="#ff2020"/>
<rect x="863" y="587" width="1" height="1" fill="#ff2020"/>
<rect x="866" y="587" width="1" height="1" fill="#ff2020"/>
<rect x="869" y="587" width="1" height="1" fill="#ff2020"/>
<rect x="872" y="587" width="1" height="1" fill="#ff2020"/>
<rect x="875" y="587" width="1" height="1" fill="#ff2020"/>
<rect x="878" y="587" width="1" height="1" fill="#ff2020"/>
<rect x="881" y="587" width="1" height="1" fill="#ff2020"/>
<rect x="884" y="587" width="1" height="1" fill="#ff2020"/>
<rect x="887" y="587" width="1" height="1" fill="#ff2020"/>
<rect x="890" y="587" width="1" height="1" fill="#ff2020"/>
<rect x="893" y="587" width="1" height="1" fill="#ff2020"/>
<rect x="896" y="587" width="1" height="1" fill="#ff2020"/>
<rect x="899" y="587" width="1" height="1" fill="#ff2020"/>
<rect x="902" y="587" width="1" height="1" fill="#ff2020"/>
<rect x="905" y="587" width="1" height="1" fill="#ff2020"/>
<rect x="908" y="587" width="1" height="1" fill="#ff2020"/>
<rect x="911" y="587" width="1" height="1" fill="#ff2020"/>
<rect x="914" y="587" width="1" height="1" fill="#ff2020"/>
<rect x="917" y="587" width="1" height="1" fill="#ff2020"/>
<rect x="920" y="587" width="1" height="1" fill="#ff2020"/>
<rect x="923" y="587" width="1" height="1" fill="#ff2020"/>
<rect x="926" y="587" width="1" height="1" fill="#ff2020"/>
<rect x="929" y="587" width="1" height="1" fill="#ff2020"/>
<rect x="932" y="587" width="1" height="1" fill="#ff2020"/>
<rect x="935" y="587" width="1" height="1" fill="#ff2020"/>
<rect x="938" y="587" width="1" height="1" fill="#ff2020"/>
<rect x="941" y="587" width="1" height="1" fill="#ff2020"/>
<rect x="944" y="587" width="1" height="1" fill="#ff2020"/>
<rect x="947" y="587" width="1" height="1" fill="#ff2020"/>
<rect x="950" y="587" width="1" height="1" fill="#ff2020"/>
<rect x="953" y="587" width="1" height="1" fill="#ff2020"/>
<rect x="956" y="587" width="1" height="1" fill="#ff2020"/>
<rect x="959" y="587" width="1" height="1" fill="#ff2020"/>
<rect x="962" y="587" width="1" height="1" fill="#ff2020"/>
<rect x="965" y="587" width="1" height="1" fill="#ff2020"/>
<rect x="968" y="587" width="1" height="1" fill="#ff2020"/>
<rect x="971" y="587" width="1" height="1" fill="#ff2020"/>
<rect x="974" y="587" width="1" height="1" fill="#ff2020"/>
<rect x="977" y="587" width="1" height="1" fill="#ff2020"/>
<rect x="980" y="587" width="1" height="1" fill="#ff2020"/>
<rect x="983" y="587" width="1" height="1" fill="#ff2020"/>
<rect x="986" y="587" width="1" height="1" fill="#ff2020"/>
<rect x="989" y="587" width="1" height="1" fill="#ff2020"/>
<rect x="992" y="587" width="1" height="1" fill="#ff2020"/>
<rect x="995" y="587" width="1" height="1" fill="#ff2020"/>
<rect x="998" y="587" width="1" height="1" fill="#ff2020"/>
<rect x="1001" y="587" width="1" height="1" fill="#ff2020"/>
<rect x="1004" y="587" width="1" height="1" fill="#ff2020"/>
<rect x="1007" y="587" width="1" height="1" fill="#ff2020"/>
<rect x="1010" y="587" width="1" height="1" fill="#ff2020"/>
<rect x="1013" y="587" width="1" height="1" fill="#ff2020"/>
<rect x="1016" y="587" width="1" height="1" fill="#ff2020"/>
<rect x="1019" y="587" width="1" height="1" fill="#ff2020"/>
<rect x="1022" y="587" width="1" height="1" fill="#ff2020"/>
<rect x="1025" y="587" width="1" height="1" fill="#ff2020"/>
<rect x="1028" y="587" width="1" height="1" fill="#ff2020"/>
<rect x="1031" y="587" width="1" height="1" fill="#ff2020"/>
<rect x="1034" y="587" width="1" height="1" fill="#ff2020"/>
<rect x="1037" y="587" width="1" height="1" fill="#ff2020"/>
<rect x="1040" y="587" width="1" height="1" fill="#ff2020"/>
<rect x="1043" y="587" width="1" height="1" fill="#ff2020"/>
<rect x="1046" y="587" width="1" height="1" fill="#ff2020"/>
<rect x="1049" y="587" width="1" height="1" fill="#ff2020"/>
<rect x="1052" y="587" width="1" height="1" fill="#ff2020"/>
<rect x="1055" y="587" width="1" height="1" fill="#ff2020"/>
<rect x="1058" y="587" width="1" height="1" fill="#ff2020"/>
<rect x="1061" y="587" width="1" height="1" fill="#ff2020"/>
<rect x="1064" y="587" width="1" height="1" fill="#ff2020"/>
<rect x="1067" y="587" width="1" height="1" fill="#ff2020"/>
<rect x="1070" y="587" width="1" height="1" fill="#ff2020"/>
<rect x="1073" y="587" width="1" height="1" fill="#ff2020"/>
<rect x="1076" y="587" width="1" height="1" fill="#ff2020"/>
<rect x="1079" y="587" width="1" height="1" fill="#ff2020"/>
<rect x="1082" y="587" width="1" height="1" fill="#ff2020"/>
<rect x="1085" y="587" width="1" height="1" fill="#ff2020"/>
<rect x="1088" y="587" width="1" height="1" fill="#ff2020"/>
<rect x="1091" y="587" width="1" height="1" fill="#ff2020"/>
<rect x="1094" y="587" width="1" height="1" fill="#ff2020"/>
<rect x="1097" y="587" width="1" height="1" fill="#ff2020"/>
<rect x="1100" y="587" width="1" height="1" fill="#ff2020"/>
<rect x="1103" y="587" width="1" height="1" fill="#ff2020"/>
<rect x="1106" y="587" width="1" height="1" fill="#ff2020"/>
<rect x="1109" y="587" width="1" height="1" fill="#ff2020"/>
<rect x="1112" y="587" width="1" height="1" fill="#ff2020"/>
<rect x="1115" y="587" width="1" height="1" fill="#ff2020"/>
<rect x="1118" y="587" width="1" height="1" fill="#ff2020"/>
<rect x="1121" y="587" width="1" height="1" fill="#ff2020"/>
<rect x="1124" y="587" width="1" height="1" fill="#ff2020"/>
<rect x="1127" y="587" width="1" height="1" fill="#ff2020"/>
<rect x="1130" y="587" width="1" height="1" fill="#ff2020"/>
<rect x="1133" y="587" width="1" height="1" fill="#ff2020"/>
<rect x="1136" y="587" width="1" height="1" fill="#ff2020"/>
<rect x="1139" y="587" width="1" height="1" fill="#ff2020"/>
<rect x="1142" y="587" width="1" height="1" fill="#ff2020"/>
<rect x="1145" y="587" width="1" height="1" fill="#ff2020"/>
<rect x="1148" y="587" width="1" height="1" fill="#ff2020"/>
<rect x="1151" y="587" width="1" height="1" fill="#ff2020"/>
<rect x="1154" y="587" width="1" height="1" fill="#ff2020"/>
<rect x="1157" y="587" width="1" height="1" fill="#ff2020"/>
<rect x="1160" y="587" width="1" height="1" fill="#ff2020"/>
<rect x="1163" y="587" width="1" height="1" fill="#ff2020"/>
<rect x="1166" y="587" width="1" height="1" fill="#ff2020"/>
<rect x="1169" y="587" width="1" height="1" fill="#ff2020"/>
<rect x="1172" y="587" width="1" height="1" fill="#ff2020"/>
<rect x="1175" y="587" width="1" height="1" fill="#ff2020"/>
<rect x="1178" y="587" width="1" height="1" fill="#ff2020"/>
<rect x="1181" y="587" width="1" height="1" fill="#ff2020"/>
<rect x="1184" y="587" width="1" height="1" fill="#ff2020"/>
<rect x="1187" y="587" width="1" height="1" fill="#ff2020"/>
<rect x="1190" y="587" width="1" height="1" fill="#ff2020"/>
<rect x="1193" y="587" width="1" height="1" fill="#ff2020"/>
<rect x="1196" y="587" width="1" height="1" fill="#ff2020"/>
<rect x="1199" y="587" width="1" height="1" fill="#ff2020"/>
<rect x="1202" y="587" width="1" height="1" fill="#ff2020"/>
<rect x="1205" y="587" width="1" height="1" fill="#ff2020"/>
<rect x="1208" y="587" width="1" height="1" fill="#ff2020"/>
<rect x="1211" y="587" width="1" height="1" fill="#ff2020"/>
<rect x="1214" y="587" width="1" height="1" fill="#ff2020"/>
<rect x="1217" y="587" width="1" height="1" fill="#ff2020"/>
<rect x="1220" y="587" width="1" height="1" fill="#ff2020"/>
<rect x="1223" y="587" width="1" height="1" fill="#ff2020"/>
<rect x="1226" y="587" width="1" height="1" fill="#ff2020"/>
<rect x="1229" y="587" width="1" height="1" fill="#ff2020"/>
<rect x="1232" y="587" width="1" height="1" fill="#ff2020"/>
<rect x="1235" y="587" width="1" height="1" fill="#ff2020"/>
<rect x="1238" y="587" width="1" height="1" fill="#ff2020"/>
<rect x="1241" y="587" width="1" height="1" fill="#ff2020"/>
<rect x="1244" y="587" width="1" height="1" fill="#ff2020"/>
<rect x="1247" y="587" width="1" height="1" fill="#ff2020"/>
<rect x="1250" y="587" width="1" height="1" fill="#ff2020"/>
<rect x="1253" y="587" width="1" height="1" fill="#ff2020"/>
<rect x="1256" y="587" width="1" height="1" fill="#ff2020"/>
<rect x="1259" y="587" width="1" height="1" fill="#ff2020"/>
<rect x="1262" y="587" width="1" height="1" fill="#ff2020"/>
<rect x="1265" y="587" width="1" height="1" fill="#ff2020"/>
<rect x="1268" y="587" width="1" height="1" fill="#ff2020"/>
<rect x="1271" y="587" width="1" height="1" fill="#ff2020"/>
<rect x="1274" y="587" width="1" height="1" fill="#ff2020"/>
<rect x="1277" y="587" width="1" height="1" fill="#ff2020"/>
<rect x="1280" y="587" width="1" height="1" fill="#ff2020"/>
<rect x="1283" y="587" width="1" height="1" fill="#ff2020"/>
<rect x="1286" y="587" width="1" height="1" fill="#ff2020"/>
<rect x="1289" y="587" width="1" height="1" fill="#ff2020"/>
<rect x="1292" y="587" width="1" height="1" fill="#ff2020"/>
<rect x="1295" y="587" width="1" height="1" fill="#ff2020"/>
<rect x="1298" y="587" width="1" height="1" fill="#ff2020"/>
<rect x="1301" y="587" width="1" height="1" fill="#ff2020"/>
<rect x="1304" y="587" width="1" height="1" fill="#ff2020"/>
<rect x="1307" y="587" width="1" height="1" fill="#ff2020"/>
<rect x="1310" y="587" width="1" height="1" fill="#ff2020"/>
<rect x="1313" y="587" width="1" height="1" fill="#ff2020"/>
<rect x="1316" y="587" width="1" height="1" fill="#ff2020"/>
<rect x="1319" y="587" width="1" height="1" fill="#ff2020"/>
<rect x="1322" y="587" width="1" height="1" fill="#ff2020"/>
<rect x="1325" y="587" width="1" height="1" fill="#ff2020"/>
<rect x="1328" y="587" width="1" height="1" fill="#ff2020"/>
</g>
<rect x="15.8" y="587.5" width="1.7" height="36.5" fill="#ff3838" opacity="0.95"/>
<rect x="21.8" y="587.5" width="1.7" height="35.0" fill="#ff3838" opacity="0.95"/>
<rect x="28.8" y="587.5" width="1.7" height="30.4" fill="#ff3838" opacity="0.95"/>
<rect x="35.8" y="587.5" width="1.7" height="27.2" fill="#ff3838" opacity="0.95"/>
<rect x="42.8" y="587.5" width="1.7" height="24.1" fill="#ff3838" opacity="0.95"/>
<rect x="48.8" y="587.5" width="1.7" height="21.6" fill="#ff3838" opacity="0.95"/>
<rect x="55.8" y="587.5" width="1.7" height="18.8" fill="#ff3838" opacity="0.95"/>
<rect x="62.8" y="587.5" width="1.7" height="16.6" fill="#ff3838" opacity="0.95"/>
<rect x="69.8" y="587.5" width="1.7" height="14.4" fill="#ff3838" opacity="0.95"/>
<rect x="75.8" y="587.5" width="1.7" height="12.2" fill="#ff3838" opacity="0.95"/>
<rect x="82.8" y="587.5" width="1.7" height="10.2" fill="#ff3838" opacity="0.95"/>
<rect x="89.8" y="587.5" width="1.7" height="15.5" fill="#ff3838" opacity="0.95"/>
<rect x="96.8" y="587.5" width="1.7" height="26.5" fill="#ff3838" opacity="0.95"/>
<rect x="102.8" y="587.5" width="1.7" height="32.9" fill="#ff3838" opacity="0.95"/>
<rect x="109.8" y="587.5" width="1.7" height="39.4" fill="#ff3838" opacity="0.95"/>
<rect x="116.8" y="587.5" width="1.7" height="48.7" fill="#ff3838" opacity="0.95"/>
<rect x="123.8" y="587.5" width="1.7" height="58.2" fill="#ff3838" opacity="0.95"/>
<rect x="129.8" y="587.5" width="1.7" height="74.3" fill="#ff3838" opacity="0.95"/>
<rect x="136.8" y="587.5" width="1.7" height="87.3" fill="#ff3838" opacity="0.95"/>
<rect x="143.8" y="587.5" width="1.7" height="97.0" fill="#ff3838" opacity="0.95"/>
<rect x="150.8" y="587.5" width="1.7" height="103.5" fill="#ff3838" opacity="0.95"/>
<rect x="156.8" y="587.5" width="1.7" height="105.8" fill="#ff3838" opacity="0.95"/>
<rect x="163.8" y="587.5" width="1.7" height="106.6" fill="#ff3838" opacity="0.95"/>
<rect x="170.8" y="587.5" width="1.7" height="108.5" fill="#ff3838" opacity="0.95"/>
<rect x="177.8" y="587.5" width="1.7" height="106.2" fill="#ff3838" opacity="0.95"/>
<rect x="183.8" y="587.5" width="1.7" height="94.9" fill="#ff3838" opacity="0.95"/>
<rect x="190.8" y="587.5" width="1.7" height="84.1" fill="#ff3838" opacity="0.95"/>
<rect x="197.8" y="587.5" width="1.7" height="71.2" fill="#ff3838" opacity="0.95"/>
<rect x="204.8" y="587.5" width="1.7" height="62.1" fill="#ff3838" opacity="0.95"/>
<rect x="210.8" y="587.5" width="1.7" height="56.0" fill="#ff3838" opacity="0.95"/>
<rect x="217.8" y="587.5" width="1.7" height="48.0" fill="#ff3838" opacity="0.95"/>
<rect x="224.8" y="587.5" width="1.7" height="39.6" fill="#ff3838" opacity="0.95"/>
<rect x="231.8" y="587.5" width="1.7" height="32.7" fill="#ff3838" opacity="0.95"/>
<rect x="237.8" y="587.5" width="1.7" height="28.1" fill="#ff3838" opacity="0.95"/>
<rect x="244.8" y="587.5" width="1.7" height="25.0" fill="#ff3838" opacity="0.95"/>
<rect x="251.8" y="587.5" width="1.7" height="22.4" fill="#ff3838" opacity="0.95"/>
<rect x="258.8" y="587.5" width="1.7" height="17.1" fill="#ff3838" opacity="0.95"/>
<rect x="264.8" y="587.5" width="1.7" height="12.0" fill="#ff3838" opacity="0.95"/>
<rect x="271.8" y="587.5" width="1.7" height="1.7" fill="#ff3838" opacity="0.95"/>
<rect x="278.8" y="580.9" width="1.7" height="6.6" fill="#ff3838" opacity="0.95"/>
<rect x="285.8" y="575.2" width="1.7" height="12.3" fill="#ff3838" opacity="0.95"/>
<rect x="291.8" y="571.7" width="1.7" height="15.8" fill="#ff3838" opacity="0.95"/>
<rect x="298.8" y="569.3" width="1.7" height="18.2" fill="#ff3838" opacity="0.95"/>
<rect x="305.8" y="569.7" width="1.7" height="17.8" fill="#ff3838" opacity="0.95"/>
<rect x="312.8" y="573.8" width="1.7" height="13.7" fill="#ff3838" opacity="0.95"/>
<rect x="318.8" y="578.9" width="1.7" height="8.6" fill="#ff3838" opacity="0.95"/>
<rect x="325.8" y="582.9" width="1.7" height="4.6" fill="#ff3838" opacity="0.95"/>
<rect x="332.8" y="587.5" width="1.7" height="0.5" fill="#ff3838" opacity="0.95"/>
<rect x="339.8" y="587.5" width="1.7" height="6.9" fill="#ff3838" opacity="0.95"/>
<rect x="345.8" y="587.5" width="1.7" height="9.5" fill="#ff3838" opacity="0.95"/>
<rect x="352.8" y="587.5" width="1.7" height="9.5" fill="#ff3838" opacity="0.95"/>
<rect x="359.8" y="587.5" width="1.7" height="8.8" fill="#ff3838" opacity="0.95"/>
<rect x="366.8" y="587.5" width="1.7" height="10.9" fill="#ff3838" opacity="0.95"/>
<rect x="372.8" y="587.5" width="1.7" height="13.1" fill="#ff3838" opacity="0.95"/>
<rect x="379.8" y="587.5" width="1.7" height="14.1" fill="#ff3838" opacity="0.95"/>
<rect x="386.8" y="587.5" width="1.7" height="14.9" fill="#ff3838" opacity="0.95"/>
<rect x="393.8" y="587.5" width="1.7" height="16.2" fill="#ff3838" opacity="0.95"/>
<rect x="399.8" y="587.5" width="1.7" height="16.6" fill="#ff3838" opacity="0.95"/>
<rect x="406.8" y="587.5" width="1.7" height="16.9" fill="#ff3838" opacity="0.95"/>
<rect x="413.8" y="587.5" width="1.7" height="16.9" fill="#ff3838" opacity="0.95"/>
<rect x="420.8" y="587.5" width="1.7" height="17.2" fill="#ff3838" opacity="0.95"/>
<rect x="426.8" y="587.5" width="1.7" height="18.9" fill="#ff3838" opacity="0.95"/>
<rect x="433.8" y="587.5" width="1.7" height="23.4" fill="#ff3838" opacity="0.95"/>
<rect x="440.8" y="587.5" width="1.7" height="26.0" fill="#ff3838" opacity="0.95"/>
<rect x="447.8" y="587.5" width="1.7" height="26.2" fill="#ff3838" opacity="0.95"/>
<rect x="453.8" y="587.5" width="1.7" height="24.4" fill="#ff3838" opacity="0.95"/>
<rect x="460.8" y="587.5" width="1.7" height="23.1" fill="#ff3838" opacity="0.95"/>
<rect x="467.8" y="587.5" width="1.7" height="21.9" fill="#ff3838" opacity="0.95"/>
<rect x="474.8" y="587.5" width="1.7" height="21.5" fill="#ff3838" opacity="0.95"/>
<rect x="480.8" y="587.5" width="1.7" height="23.3" fill="#ff3838" opacity="0.95"/>
<rect x="487.8" y="587.5" width="1.7" height="26.9" fill="#ff3838" opacity="0.95"/>
<rect x="494.8" y="587.5" width="1.7" height="30.6" fill="#ff3838" opacity="0.95"/>
<rect x="501.8" y="587.5" width="1.7" height="35.7" fill="#ff3838" opacity="0.95"/>
<rect x="507.8" y="587.5" width="1.7" height="40.3" fill="#ff3838" opacity="0.95"/>
<rect x="514.8" y="587.5" width="1.7" height="46.0" fill="#ff3838" opacity="0.95"/>
<rect x="521.8" y="587.5" width="1.7" height="49.3" fill="#ff3838" opacity="0.95"/>
<rect x="528.8" y="587.5" width="1.7" height="50.2" fill="#ff3838" opacity="0.95"/>
<rect x="534.8" y="587.5" width="1.7" height="50.5" fill="#ff3838" opacity="0.95"/>
<rect x="541.8" y="587.5" width="1.7" height="48.4" fill="#ff3838" opacity="0.95"/>
<rect x="548.8" y="587.5" width="1.7" height="44.8" fill="#ff3838" opacity="0.95"/>
<rect x="555.8" y="587.5" width="1.7" height="41.0" fill="#ff3838" opacity="0.95"/>
<rect x="561.8" y="587.5" width="1.7" height="38.6" fill="#ff3838" opacity="0.95"/>
<rect x="568.8" y="587.5" width="1.7" height="34.0" fill="#ff3838" opacity="0.95"/>
<rect x="575.8" y="587.5" width="1.7" height="30.1" fill="#ff3838" opacity="0.95"/>
<rect x="582.8" y="587.5" width="1.7" height="26.1" fill="#ff3838" opacity="0.95"/>
<rect x="588.8" y="587.5" width="1.7" height="21.5" fill="#ff3838" opacity="0.95"/>
<rect x="595.8" y="587.5" width="1.7" height="16.1" fill="#ff3838" opacity="0.95"/>
<rect x="602.8" y="587.5" width="1.7" height="11.8" fill="#ff3838" opacity="0.95"/>
<rect x="609.8" y="587.5" width="1.7" height="9.6" fill="#ff3838" opacity="0.95"/>
<rect x="615.8" y="587.5" width="1.7" height="9.6" fill="#ff3838" opacity="0.95"/>
<rect x="622.8" y="587.5" width="1.7" height="10.6" fill="#ff3838" opacity="0.95"/>
<rect x="629.8" y="587.5" width="1.7" height="11.7" fill="#ff3838" opacity="0.95"/>
<rect x="636.8" y="587.5" width="1.7" height="10.5" fill="#ff3838" opacity="0.95"/>
<rect x="642.8" y="587.5" width="1.7" height="7.5" fill="#ff3838" opacity="0.95"/>
<rect x="649.8" y="587.5" width="1.7" height="3.7" fill="#ff3838" opacity="0.95"/>
<rect x="656.8" y="584.2" width="1.7" height="3.3" fill="#ff3838" opacity="0.95"/>
<rect x="663.8" y="577.1" width="1.7" height="10.4" fill="#ff3838" opacity="0.95"/>
<rect x="669.8" y="573.4" width="1.7" height="14.1" fill="#ff3838" opacity="0.95"/>
<rect x="676.8" y="571.3" width="1.7" height="16.2" fill="#ff3838" opacity="0.95"/>
<rect x="683.8" y="568.6" width="1.7" height="18.9" fill="#ff3838" opacity="0.95"/>
<rect x="689.8" y="567.2" width="1.7" height="20.3" fill="#ff3838" opacity="0.95"/>
<rect x="696.8" y="568.0" width="1.7" height="19.5" fill="#ff3838" opacity="0.95"/>
<rect x="703.8" y="568.7" width="1.7" height="18.8" fill="#ff3838" opacity="0.95"/>
<rect x="710.8" y="568.8" width="1.7" height="18.7" fill="#ff3838" opacity="0.95"/>
<rect x="716.8" y="569.3" width="1.7" height="18.2" fill="#ff3838" opacity="0.95"/>
<rect x="723.8" y="573.4" width="1.7" height="14.1" fill="#ff3838" opacity="0.95"/>
<rect x="730.8" y="575.7" width="1.7" height="11.8" fill="#ff3838" opacity="0.95"/>
<rect x="737.8" y="577.0" width="1.7" height="10.5" fill="#ff3838" opacity="0.95"/>
<rect x="743.8" y="578.1" width="1.7" height="9.4" fill="#ff3838" opacity="0.95"/>
<rect x="750.8" y="579.7" width="1.7" height="7.8" fill="#ff3838" opacity="0.95"/>
<rect x="757.8" y="581.4" width="1.7" height="6.1" fill="#ff3838" opacity="0.95"/>
<rect x="764.8" y="582.9" width="1.7" height="4.6" fill="#ff3838" opacity="0.95"/>
<rect x="770.8" y="584.2" width="1.7" height="3.3" fill="#ff3838" opacity="0.95"/>
<rect x="777.8" y="586.5" width="1.7" height="1.0" fill="#ff3838" opacity="0.95"/>
<rect x="784.8" y="587.4" width="1.7" height="0.1" fill="#ff3838" opacity="0.95"/>
<rect x="791.8" y="587.5" width="1.7" height="0.9" fill="#ff3838" opacity="0.95"/>
<rect x="797.8" y="587.5" width="1.7" height="3.4" fill="#ff3838" opacity="0.95"/>
<rect x="804.8" y="587.5" width="1.7" height="5.4" fill="#ff3838" opacity="0.95"/>
<rect x="811.8" y="587.5" width="1.7" height="7.5" fill="#ff3838" opacity="0.95"/>
<rect x="818.8" y="587.5" width="1.7" height="7.4" fill="#ff3838" opacity="0.95"/>
<rect x="824.8" y="587.5" width="1.7" height="6.4" fill="#ff3838" opacity="0.95"/>
<rect x="831.8" y="587.5" width="1.7" height="6.7" fill="#ff3838" opacity="0.95"/>
<rect x="838.8" y="587.5" width="1.7" height="7.7" fill="#ff3838" opacity="0.95"/>
<rect x="845.8" y="587.5" width="1.7" height="11.0" fill="#ff3838" opacity="0.95"/>
<rect x="851.8" y="587.5" width="1.7" height="13.7" fill="#ff3838" opacity="0.95"/>
<rect x="858.8" y="587.5" width="1.7" height="14.6" fill="#ff3838" opacity="0.95"/>
<rect x="865.8" y="587.5" width="1.7" height="15.2" fill="#ff3838" opacity="0.95"/>
<rect x="872.8" y="587.5" width="1.7" height="16.2" fill="#ff3838" opacity="0.95"/>
<rect x="878.8" y="587.5" width="1.7" height="17.2" fill="#ff3838" opacity="0.95"/>
<rect x="885.8" y="587.5" width="1.7" height="20.1" fill="#ff3838" opacity="0.95"/>
<rect x="892.8" y="587.5" width="1.7" height="24.5" fill="#ff3838" opacity="0.95"/>
<rect x="899.8" y="587.5" width="1.7" height="25.1" fill="#ff3838" opacity="0.95"/>
<rect x="905.8" y="587.5" width="1.7" height="23.2" fill="#ff3838" opacity="0.95"/>
<rect x="912.8" y="587.5" width="1.7" height="21.8" fill="#ff3838" opacity="0.95"/>
<rect x="919.8" y="587.5" width="1.7" height="20.3" fill="#ff3838" opacity="0.95"/>
<rect x="926.8" y="587.5" width="1.7" height="18.7" fill="#ff3838" opacity="0.95"/>
<rect x="932.8" y="587.5" width="1.7" height="15.6" fill="#ff3838" opacity="0.95"/>
<rect x="939.8" y="587.5" width="1.7" height="10.9" fill="#ff3838" opacity="0.95"/>
<rect x="946.8" y="587.5" width="1.7" height="6.9" fill="#ff3838" opacity="0.95"/>
<rect x="953.8" y="587.5" width="1.7" height="4.4" fill="#ff3838" opacity="0.95"/>
<rect x="959.8" y="587.5" width="1.7" height="2.4" fill="#ff3838" opacity="0.95"/>
<rect x="966.8" y="587.5" width="1.7" height="1.1" fill="#ff3838" opacity="0.95"/>
<rect x="973.8" y="587.3" width="1.7" height="0.2" fill="#ff3838" opacity="0.95"/>
<rect x="980.8" y="586.7" width="1.7" height="0.8" fill="#ff3838" opacity="0.95"/>
<rect x="986.8" y="586.2" width="1.7" height="1.3" fill="#ff3838" opacity="0.95"/>
<rect x="993.8" y="584.0" width="1.7" height="3.5" fill="#ff3838" opacity="0.95"/>
<rect x="1000.8" y="580.6" width="1.7" height="6.9" fill="#ff3838" opacity="0.95"/>
<rect x="1007.8" y="578.1" width="1.7" height="9.4" fill="#ff3838" opacity="0.95"/>
<rect x="1013.8" y="576.2" width="1.7" height="11.3" fill="#ff3838" opacity="0.95"/>
<rect x="1020.8" y="574.8" width="1.7" height="12.7" fill="#ff3838" opacity="0.95"/>
<rect x="1027.8" y="576.5" width="1.7" height="11.0" fill="#ff3838" opacity="0.95"/>
<rect x="1034.8" y="579.5" width="1.7" height="8.0" fill="#ff3838" opacity="0.95"/>
<rect x="1040.8" y="584.4" width="1.7" height="3.1" fill="#ff3838" opacity="0.95"/>
<rect x="1047.8" y="587.3" width="1.7" height="0.2" fill="#ff3838" opacity="0.95"/>
<rect x="1054.8" y="587.5" width="1.7" height="2.0" fill="#ff3838" opacity="0.95"/>
<rect x="1061.8" y="587.5" width="1.7" height="3.3" fill="#ff3838" opacity="0.95"/>
<rect x="1067.8" y="587.5" width="1.7" height="3.9" fill="#ff3838" opacity="0.95"/>
<rect x="1074.8" y="587.5" width="1.7" height="4.5" fill="#ff3838" opacity="0.95"/>
<rect x="1081.8" y="587.5" width="1.7" height="4.8" fill="#ff3838" opacity="0.95"/>
<rect x="1088.8" y="587.5" width="1.7" height="4.8" fill="#ff3838" opacity="0.95"/>
<rect x="1094.8" y="587.5" width="1.7" height="3.3" fill="#ff3838" opacity="0.95"/>
<rect x="1101.8" y="587.5" width="1.7" height="1.5" fill="#ff3838" opacity="0.95"/>
<rect x="1108.8" y="584.0" width="1.7" height="3.5" fill="#ff3838" opacity="0.95"/>
<rect x="1115.8" y="578.9" width="1.7" height="8.6" fill="#ff3838" opacity="0.95"/>
<rect x="1121.8" y="574.9" width="1.7" height="12.6" fill="#ff3838" opacity="0.95"/>
<rect x="1128.8" y="569.7" width="1.7" height="17.8" fill="#ff3838" opacity="0.95"/>
<rect x="1135.8" y="567.4" width="1.7" height="20.1" fill="#ff3838" opacity="0.95"/>
<rect x="1142.8" y="566.9" width="1.7" height="20.6" fill="#ff3838" opacity="0.95"/>
<rect x="1148.8" y="566.9" width="1.7" height="20.6" fill="#ff3838" opacity="0.95"/>
<rect x="1155.8" y="569.7" width="1.7" height="17.8" fill="#ff3838" opacity="0.95"/>
<rect x="1162.8" y="574.0" width="1.7" height="13.5" fill="#ff3838" opacity="0.95"/>
<rect x="1169.8" y="580.4" width="1.7" height="7.1" fill="#ff3838" opacity="0.95"/>
<rect x="1175.8" y="585.9" width="1.7" height="1.6" fill="#ff3838" opacity="0.95"/>
<rect x="1182.8" y="587.5" width="1.7" height="3.8" fill="#ff3838" opacity="0.95"/>
<rect x="1189.8" y="587.5" width="1.7" height="6.3" fill="#ff3838" opacity="0.95"/>
<rect x="1196.8" y="587.5" width="1.7" height="5.1" fill="#ff3838" opacity="0.95"/>
<rect x="1202.8" y="587.5" width="1.7" height="1.6" fill="#ff3838" opacity="0.95"/>
<rect x="1209.8" y="585.3" width="1.7" height="2.2" fill="#ff3838" opacity="0.95"/>
<rect x="1216.8" y="580.9" width="1.7" height="6.6" fill="#ff3838" opacity="0.95"/>
<path d="M13.9 624.7C13.9 624.7 22.5 622.5 22.5 622.5C22.5 622.5 28.9 618.2 28.9 618.2C28.9 618.2 42.9 611.8 42.9 611.8C42.9 611.8 55.7 606.5 55.7 606.5C55.7 606.5 69.7 602.2 69.7 602.2C69.7 602.2 83.0 597.4 83.0 597.4C83.0 597.4 90.0 602.2 90.0 602.2C90.0 602.2 96.5 612.9 96.5 612.9C96.5 612.9 103.5 620.4 103.5 620.4C103.5 620.4 110.4 626.8 110.4 626.8C110.4 626.8 116.8 635.4 116.8 635.4C116.8 635.4 123.9 644.0 123.9 644.0C123.9 644.0 130.1 661.1 130.1 661.1C130.1 661.1 137.2 674.4 137.2 674.4C137.2 674.4 144.1 684.1 144.1 684.1C144.1 684.1 150.7 690.7 150.7 690.7C150.7 690.7 157.6 693.3 157.6 693.3C157.6 693.3 164.0 693.9 164.0 693.9C164.0 693.9 170.8 696.1 170.8 696.1C170.8 696.1 177.9 694.8 177.9 694.8C177.9 694.8 184.4 682.6 184.4 682.6C184.4 682.6 191.4 671.8 191.4 671.8C191.4 671.8 198.3 659.0 198.3 659.0C198.3 659.0 204.7 650.4 204.7 650.4C204.7 650.4 211.1 644.0 211.1 644.0C211.1 644.0 218.6 635.4 218.6 635.4C218.6 635.4 225.1 627.5 225.1 627.5C225.1 627.5 232.2 620.4 232.2 620.4C232.2 620.4 238.6 615.5 238.6 615.5C238.6 615.5 245.4 612.5 245.4 612.5C245.4 612.5 252.3 610.1 252.3 610.1C252.3 610.1 258.4 605.5 258.4 605.5C258.4 605.5 265.8 599.2 265.8 599.2C265.8 599.2 272.1 589.7 272.1 589.7C272.1 589.7 279.0 581.3 279.0 581.3C279.0 581.3 285.8 575.6 285.8 575.6C285.8 575.6 292.1 571.8 292.1 571.8C292.1 571.8 298.8 569.3 298.8 569.3C298.8 569.3 305.7 569.3 305.7 569.3C305.7 569.3 312.5 572.9 312.5 572.9C312.5 572.9 319.4 578.8 319.4 578.8C319.4 578.8 325.7 582.3 325.7 582.3C325.7 582.3 333.1 587.6 333.1 587.6C333.1 587.6 339.4 593.9 339.4 593.9C339.4 593.9 346.7 597.1 346.7 597.1C346.7 597.1 353.0 597.1 353.0 597.1C353.0 597.1 359.4 596.0 359.4 596.0C359.4 596.0 366.7 598.1 366.7 598.1C366.7 598.1 374.1 600.8 374.1 600.8C374.1 600.8 386.7 602.3 386.7 602.3C386.7 602.3 395.1 603.8 395.1 603.8C395.1 603.8 407.7 604.4 407.7 604.4C407.7 604.4 420.3 604.4 420.3 604.4C420.3 604.4 427.7 606.5 427.7 606.5C427.7 606.5 434.0 610.7 434.0 610.7C434.0 610.7 440.7 613.5 440.7 613.5C440.7 613.5 447.7 613.9 447.7 613.9C447.7 613.9 455.0 611.8 455.0 611.8C455.0 611.8 466.6 609.7 466.6 609.7C466.6 609.7 474.0 608.6 474.0 608.6C474.0 608.6 481.3 610.7 481.3 610.7C481.3 610.7 487.6 613.9 487.6 613.9C487.6 613.9 495.0 617.7 495.0 617.7C495.0 617.7 501.3 622.3 501.3 622.3C501.3 622.3 508.3 627.6 508.3 627.6C508.3 627.6 515.0 633.2 515.0 633.2C515.0 633.2 521.3 636.6 521.3 636.6C521.3 636.6 528.7 637.6 528.7 637.6C528.7 637.6 535.0 638.1 535.0 638.1C535.0 638.1 542.3 636.0 542.3 636.0C542.3 636.0 548.6 632.8 548.6 632.8C548.6 632.8 556.3 628.6 556.3 628.6C556.3 628.6 562.6 626.1 562.6 626.1C562.6 626.1 570.0 621.2 570.0 621.2C570.0 621.2 576.3 617.7 576.3 617.7C576.3 617.7 583.6 613.5 583.6 613.5C583.6 613.5 590.0 608.6 590.0 608.6C590.0 608.6 596.7 603.4 596.7 603.4C596.7 603.4 603.6 599.2 603.6 599.2C603.6 599.2 609.9 597.1 609.9 597.1C609.9 597.1 616.7 597.1 616.7 597.1C616.7 597.1 623.6 598.1 623.6 598.1C623.6 598.1 630.3 599.2 630.3 599.2C630.3 599.2 637.3 598.1 637.3 598.1C637.3 598.1 643.6 595.0 643.6 595.0C643.6 595.0 649.9 591.8 649.9 591.8C649.9 591.8 657.3 584.4 657.3 584.4C657.3 584.4 663.6 577.7 663.6 577.7C663.6 577.7 670.3 573.5 670.3 573.5C670.3 573.5 677.2 571.4 677.2 571.4C677.2 571.4 684.0 568.7 684.0 568.7C684.0 568.7 690.5 567.2 690.5 567.2C690.5 567.2 697.2 568.0 697.2 568.0C697.2 568.0 704.6 568.7 704.6 568.7C704.6 568.7 710.9 568.7 710.9 568.7C710.9 568.7 717.6 569.3 717.6 569.3C717.6 569.3 724.6 573.5 724.6 573.5C724.6 573.5 730.9 575.6 730.9 575.6C730.9 575.6 744.5 578.1 744.5 578.1C744.5 578.1 758.2 581.3 758.2 581.3C758.2 581.3 770.8 584.0 770.8 584.0C770.8 584.0 778.2 586.5 778.2 586.5C778.2 586.5 791.9 588.2 791.9 588.2C791.9 588.2 798.2 590.8 798.2 590.8C798.2 590.8 805.5 592.9 805.5 592.9C805.5 592.9 811.8 595.0 811.8 595.0C811.8 595.0 819.2 595.0 819.2 595.0C819.2 595.0 825.5 593.9 825.5 593.9C825.5 593.9 838.1 594.5 838.1 594.5C838.1 594.5 845.5 598.1 845.5 598.1C845.5 598.1 852.8 601.3 852.8 601.3C852.8 601.3 859.3 602.1 859.3 602.1C859.3 602.1 865.9 602.6 865.9 602.6C865.9 602.6 879.1 604.5 879.1 604.5C879.1 604.5 885.7 607.1 885.7 607.1C885.7 607.1 892.9 611.9 892.9 611.9C892.9 611.9 900.3 612.7 900.3 612.7C900.3 612.7 906.9 610.6 906.9 610.6C906.9 610.6 920.1 607.9 920.1 607.9C920.1 607.9 926.7 606.6 926.7 606.6C926.7 606.6 933.4 603.2 933.4 603.2C933.4 603.2 940.0 598.7 940.0 598.7C940.0 598.7 946.6 594.7 946.6 594.7C946.6 594.7 960.3 589.9 960.3 589.9C960.3 589.9 974.4 587.3 974.4 587.3C974.4 587.3 987.6 586.2 987.6 586.2C987.6 586.2 994.2 584.1 994.2 584.1C994.2 584.1 1000.8 580.9 1000.8 580.9C1000.8 580.9 1008.0 578.3 1008.0 578.3C1008.0 578.3 1014.6 576.2 1014.6 576.2C1014.6 576.2 1021.5 574.8 1021.5 574.8C1021.5 574.8 1027.8 576.2 1027.8 576.2C1027.8 576.2 1035.2 579.3 1035.2 579.3C1035.2 579.3 1041.8 584.6 1041.8 584.6C1041.8 584.6 1048.5 587.3 1048.5 587.3C1048.5 587.3 1055.1 589.4 1055.1 589.4C1055.1 589.4 1061.7 590.7 1061.7 590.7C1061.7 590.7 1074.9 592.0 1074.9 592.0C1074.9 592.0 1088.2 592.6 1088.2 592.6C1088.2 592.6 1096.1 590.7 1096.1 590.7C1096.1 590.7 1102.7 588.9 1102.7 588.9C1102.7 588.9 1109.3 584.1 1109.3 584.1C1109.3 584.1 1115.9 579.3 1115.9 579.3C1115.9 579.3 1122.6 574.8 1122.6 574.8C1122.6 574.8 1129.7 569.6 1129.7 569.6C1129.7 569.6 1136.3 567.4 1136.3 567.4C1136.3 567.4 1143.2 566.9 1143.2 566.9C1143.2 566.9 1149.8 566.9 1149.8 566.9C1149.8 566.9 1156.4 569.6 1156.4 569.6C1156.4 569.6 1163.6 574.1 1163.6 574.1C1163.6 574.1 1170.2 580.1 1170.2 580.1C1170.2 580.1 1176.8 586.2 1176.8 586.2C1176.8 586.2 1183.4 591.3 1183.4 591.3C1183.4 591.3 1190.0 593.9 1190.0 593.9C1190.0 593.9 1197.2 592.8 1197.2 592.8C1197.2 592.8 1203.8 588.9 1203.8 588.9C1203.8 588.9 1210.4 585.4 1210.4 585.4C1210.4 585.4 1217.0 580.9 1217.0 580.9" fill="none" stroke="#ff3a3a" stroke-width="2.4" stroke-linejoin="round" stroke-linecap="butt" opacity="0.88"/>
<path d="M13.9 625.1C15.5 624.9 19.5 624.8 23.6 623.6C27.7 622.5 33.6 620.3 38.6 618.2C43.6 616.1 48.6 613.3 53.6 611.2C58.6 609.1 63.8 607.2 68.6 605.4C73.4 603.6 78.9 601.2 82.5 600.5C86.1 599.8 87.3 600.1 90.0 601.1C92.7 602.1 95.4 603.8 98.6 606.5C101.8 609.2 105.0 612.9 109.3 617.2C113.6 621.5 119.7 626.1 124.3 632.2C128.9 638.3 132.9 646.5 137.2 653.6C141.5 660.7 146.2 669.5 150.1 675.0C154.0 680.5 157.4 683.9 160.8 686.8C164.2 689.7 167.6 691.4 170.4 692.6C173.2 693.8 175.6 694.1 177.9 693.9C180.2 693.6 181.9 692.6 184.4 691.1C186.9 689.6 189.7 688.8 192.9 684.7C196.1 680.6 199.7 672.4 203.6 666.5C207.5 660.6 212.6 654.5 216.5 649.3C220.4 644.1 223.6 639.7 227.2 635.4C230.8 631.1 234.3 626.9 237.9 623.6C241.5 620.3 244.2 618.4 248.7 615.5C253.2 612.6 259.9 609.9 264.7 606.5C269.5 603.1 273.4 598.9 277.3 595.0C281.2 591.1 284.4 586.9 287.9 583.4C291.4 579.9 295.2 576.0 298.4 573.9C301.5 571.8 304.0 571.2 306.8 570.8C309.6 570.4 311.9 570.5 315.2 571.4C318.5 572.3 323.6 574.4 326.8 576.0C330.0 577.6 331.5 579.2 334.1 581.3C336.7 583.4 339.4 586.4 342.5 588.6C345.6 590.8 349.5 593.3 353.0 594.5C356.5 595.7 360.1 595.3 363.6 596.0C367.1 596.7 370.6 598.0 374.1 598.7C377.6 599.4 380.8 599.5 384.6 600.2C388.5 600.9 393.0 602.4 397.2 603.0C401.4 603.6 405.6 603.6 409.8 603.8C414.0 604.0 419.2 604.0 422.5 604.4C425.8 604.8 427.0 605.1 429.8 606.1C432.6 607.1 436.0 609.1 439.3 610.1C442.6 611.1 446.3 611.9 449.8 612.2C453.3 612.5 456.1 612.1 460.3 611.8C464.5 611.4 470.4 610.2 475.0 610.1C479.6 610.0 483.7 610.4 487.6 611.4C491.5 612.4 494.7 614.0 498.2 616.0C501.7 618.0 505.2 620.8 508.7 623.3C512.2 625.8 516.1 628.8 519.2 630.7C522.4 632.6 524.8 633.9 527.6 634.9C530.4 635.9 532.5 636.6 536.0 636.6C539.5 636.6 544.2 636.0 548.6 634.9C553.0 633.8 557.1 632.8 562.6 630.3C568.1 627.8 575.9 623.6 581.5 620.2C587.1 616.8 591.7 613.2 596.3 610.1C600.9 607.0 605.0 603.6 608.9 601.7C612.8 599.8 615.9 599.0 619.4 598.5C622.9 598.0 626.4 598.7 629.9 598.5C633.4 598.3 637.1 598.1 640.4 597.5C643.7 596.9 646.7 596.3 649.9 595.0C653.1 593.7 656.4 591.6 659.4 589.7C662.4 587.8 665.0 585.5 667.8 583.4C670.6 581.3 673.4 578.9 676.2 577.1C679.0 575.3 681.8 573.7 684.6 572.5C687.4 571.3 690.2 570.3 693.0 569.7C695.8 569.1 697.4 568.9 701.4 568.7C705.4 568.5 712.6 568.2 717.2 568.7C721.8 569.2 724.4 570.6 728.8 571.8C733.2 572.9 738.2 574.4 743.5 575.6C748.8 576.8 754.7 577.9 760.3 579.2C765.9 580.5 771.8 582.2 777.1 583.4C782.4 584.6 787.7 585.5 791.9 586.5C796.1 587.5 798.9 588.2 802.4 589.3C805.9 590.4 809.8 592.1 812.9 592.9C816.0 593.7 817.1 594.1 821.3 594.3C825.5 594.5 833.5 593.8 838.1 594.3C842.7 594.8 844.0 596.3 848.6 597.5C853.2 598.7 859.9 600.0 865.9 601.3C871.9 602.6 879.5 604.0 884.4 605.3C889.2 606.6 891.5 608.2 895.0 609.2C898.5 610.2 901.2 611.4 905.6 611.4C910.0 611.4 916.5 610.2 921.4 609.2C926.2 608.2 930.3 607.0 934.7 605.3C939.1 603.5 943.5 600.7 947.9 598.7C952.3 596.7 956.7 595.0 961.1 593.4C965.5 591.8 969.1 590.6 974.4 589.4C979.7 588.2 987.2 587.6 992.9 586.2C998.6 584.8 1003.9 582.4 1008.8 580.9C1013.6 579.4 1017.6 577.6 1022.0 577.0C1026.4 576.4 1031.2 576.4 1035.2 577.0C1039.2 577.6 1041.8 579.3 1045.8 580.9C1049.8 582.5 1054.6 585.2 1059.0 586.8C1063.4 588.4 1067.4 589.8 1072.3 590.7C1077.2 591.6 1083.3 592.0 1088.2 592.0C1093.1 592.0 1097.0 591.8 1101.4 590.7C1105.8 589.6 1110.2 587.6 1114.6 585.4C1119.0 583.2 1123.8 579.8 1127.8 577.5C1131.8 575.2 1134.9 573.0 1138.4 571.4C1141.9 569.8 1145.5 568.2 1149.0 567.7C1152.5 567.2 1156.1 567.3 1159.6 568.2C1163.1 569.1 1166.7 570.8 1170.2 573.0C1173.7 575.2 1177.7 579.2 1180.8 581.5C1183.9 583.8 1186.1 585.3 1188.7 586.8C1191.3 588.3 1193.9 590.1 1196.6 590.7C1199.2 591.4 1201.9 591.1 1204.6 590.7C1207.2 590.3 1210.4 588.9 1212.5 588.1C1214.6 587.3 1216.2 586.4 1217.0 586.0" fill="none" stroke="#4d4df6" stroke-width="2.6" stroke-linejoin="round" stroke-linecap="butt" opacity="0.95"/>
<g shape-rendering="crispEdges">
<rect x="1329" y="35" width="1" height="730" fill="#4b4e5a"/>
<rect x="14" y="710" width="1446" height="1" fill="#4b4e5a"/>
</g>
<text x="13.3" y="24.7" font-size="14.5" fill="#131722" font-weight="normal" text-anchor="start" textLength="527.5" lengthAdjust="spacingAndGlyphs" >Continuum_Economics created with TradingView.com, Nov 24, 2025 09:42 UTC</text>
<text x="670.5" y="64.9" font-size="19.5" fill="#111" font-weight="bold" text-anchor="start" textLength="190.5" lengthAdjust="spacingAndGlyphs" >USD/CHF Daily Chart</text>
<text x="1102" y="64.9" font-size="19.5" fill="#111" font-weight="bold" text-anchor="start" textLength="118" lengthAdjust="spacingAndGlyphs" >1-2 day view</text>
<g fill="none" stroke="#7f6000" stroke-width="6.6" stroke-linecap="round" stroke-linejoin="round"><path d="M1256 62.5H1286"/><path d="M1271.6 47.6L1287.5 62.5L1271.6 78.4"/></g>
<text x="144" y="203" font-size="20" fill="#1c4fa0" font-weight="bold" text-anchor="start" textLength="159" lengthAdjust="spacingAndGlyphs" >21d weighted MA</text>
<text x="453.7" y="170.6" font-size="19.5" fill="#f5821f" font-weight="bold" text-anchor="start" textLength="171.6" lengthAdjust="spacingAndGlyphs" >233d weighted MA</text>
<text x="876.5" y="215" font-size="18" fill="#1b5e20" font-weight="bold" text-anchor="start" textLength="299" lengthAdjust="spacingAndGlyphs" >0.8155 - 50% ret of May-Sep fall</text>
<text x="876.5" y="235.3" font-size="18" fill="#1b5e20" font-weight="bold" text-anchor="start" textLength="317.7" lengthAdjust="spacingAndGlyphs" >0.8230 - 61.8% ret of May-Sep fall</text>
<text x="876.5" y="254.9" font-size="18" fill="#1b5e20" font-weight="bold" text-anchor="start" textLength="317.7" lengthAdjust="spacingAndGlyphs" >0.8325 - 76.4% ret of May-Sep fall</text>
<text x="44.5" y="474.2" font-size="18.5" fill="#880e4f" font-weight="bold" text-anchor="start" textLength="353.7" lengthAdjust="spacingAndGlyphs" >0.7850 - 76.4% ret of 2011-2016 rally</text>
<text x="412.2" y="504.3" font-size="18.5" fill="#880e4f" font-weight="bold" text-anchor="start" textLength="63.5" lengthAdjust="spacingAndGlyphs" >0.7850</text>
<text x="748.6" y="366.6" font-size="18.5" fill="#ff0000" font-weight="bold" text-anchor="start" textLength="75.7" lengthAdjust="spacingAndGlyphs" >0.8170~</text>
<text x="983.6" y="380" font-size="24.5" fill="#1b5e20" font-weight="bold" text-anchor="start" textLength="80.7" lengthAdjust="spacingAndGlyphs" >0.8155</text>
<text x="1068" y="515.6" font-size="18.5" fill="#ff0000" font-weight="bold" text-anchor="start" textLength="75.5" lengthAdjust="spacingAndGlyphs" >0.7830~</text>
<text x="1227.2" y="399.5" font-size="24" fill="#ff0000" font-weight="bold" text-anchor="start" textLength="82.6" lengthAdjust="spacingAndGlyphs" >0.8100</text>
<text x="1227.2" y="420.5" font-size="24" fill="#ff0000" font-weight="bold" text-anchor="start" textLength="82.6" lengthAdjust="spacingAndGlyphs" >0.8050</text>
<text x="1227.2" y="441" font-size="24" fill="#ff0000" font-weight="bold" text-anchor="start" textLength="82.6" lengthAdjust="spacingAndGlyphs" >0.8000</text>
<text x="1206.8" y="460.6" font-size="18" fill="#ff0000" font-weight="bold" text-anchor="start" textLength="66.2" lengthAdjust="spacingAndGlyphs" >0.7950</text>
<text x="1200.9" y="483.2" font-size="18" fill="#ff0000" font-weight="bold" text-anchor="start" textLength="66" lengthAdjust="spacingAndGlyphs" >0.7900</text>
<text x="32.2" y="573.9" font-size="20" fill="#111" font-weight="bold" text-anchor="start" textLength="159.7" lengthAdjust="spacingAndGlyphs" >Tension Indicator</text>
<clipPath id="cl"><rect x="14" y="35" width="1315" height="675"/></clipPath>
<text x="1320.8" y="428.5" font-size="18.5" fill="#bf9000" font-weight="bold" text-anchor="start" clip-path="url(#cl)">233d</text>
<text x="1346" y="116.3" font-size="26" fill="#131722" font-weight="normal" text-anchor="start" textLength="87.8" lengthAdjust="spacingAndGlyphs" >0.88000</text>
<text x="1346" y="194.2" font-size="26" fill="#131722" font-weight="normal" text-anchor="start" textLength="87.8" lengthAdjust="spacingAndGlyphs" >0.86000</text>
<text x="1346" y="275.2" font-size="26" fill="#131722" font-weight="normal" text-anchor="start" textLength="87.8" lengthAdjust="spacingAndGlyphs" >0.84000</text>
<text x="1346" y="358.0" font-size="26" fill="#131722" font-weight="normal" text-anchor="start" textLength="87.8" lengthAdjust="spacingAndGlyphs" >0.82000</text>
<text x="1346" y="507.1" font-size="26" fill="#131722" font-weight="normal" text-anchor="start" textLength="87.8" lengthAdjust="spacingAndGlyphs" >0.78500</text>
<path d="M1329.5 350H1442a2 2 0 0 1 2 2V382.5a2 2 0 0 1 -2 2H1329.5Z" fill="#bf9000"/>
<text x="1346" y="376.35" font-size="26" fill="#fff" font-weight="normal" text-anchor="start" textLength="87.8" lengthAdjust="spacingAndGlyphs" stroke="#fff" stroke-width="0.3">0.81205</text>
<path d="M1329.5 386H1442a2 2 0 0 1 2 2V418.6a2 2 0 0 1 -2 2H1329.5Z" fill="#6aa84f"/>
<text x="1346" y="412.40000000000003" font-size="26" fill="#fff" font-weight="normal" text-anchor="start" textLength="87.8" lengthAdjust="spacingAndGlyphs" stroke="#fff" stroke-width="0.3">0.80721</text>
<path d="M1329.5 421.1H1442a2 2 0 0 1 2 2V453.5a2 2 0 0 1 -2 2H1329.5Z" fill="#3c3fa6"/>
<text x="1346" y="447.40000000000003" font-size="26" fill="#fff" font-weight="normal" text-anchor="start" textLength="87.8" lengthAdjust="spacingAndGlyphs" stroke="#fff" stroke-width="0.3">0.80237</text>
<rect x="1334.5" y="39.5" width="122" height="31.5" rx="5" fill="#fff" stroke="#efefef" stroke-width="1.3"/>
<text x="1345.4" y="60" font-size="15.5" fill="#2a2e39" font-weight="normal" text-anchor="start" textLength="27" lengthAdjust="spacingAndGlyphs" >CHF</text>
<text x="76.5" y="742.7" font-size="23" fill="#111" font-weight="bold" text-anchor="middle" textLength="41" lengthAdjust="spacingAndGlyphs" >Apr</text>
<text x="224.8" y="742.7" font-size="23" fill="#111" font-weight="bold" text-anchor="middle" textLength="45" lengthAdjust="spacingAndGlyphs" >May</text>
<text x="373.2" y="742.7" font-size="23" fill="#111" font-weight="bold" text-anchor="middle" textLength="41.6" lengthAdjust="spacingAndGlyphs" >Jun</text>
<text x="515" y="742.7" font-size="23" fill="#111" font-weight="bold" text-anchor="middle" textLength="34" lengthAdjust="spacingAndGlyphs" >Jul</text>
<text x="670.5" y="742.7" font-size="23" fill="#111" font-weight="bold" text-anchor="middle" textLength="43" lengthAdjust="spacingAndGlyphs" >Aug</text>
<text x="812" y="742.7" font-size="23" fill="#111" font-weight="bold" text-anchor="middle" textLength="41" lengthAdjust="spacingAndGlyphs" >Sep</text>
<text x="960.5" y="742.7" font-size="23" fill="#111" font-weight="bold" text-anchor="middle" textLength="40" lengthAdjust="spacingAndGlyphs" >Oct</text>
<text x="1116" y="742.7" font-size="23" fill="#111" font-weight="bold" text-anchor="middle" textLength="42" lengthAdjust="spacingAndGlyphs" >Nov</text>
<text x="1251" y="742.7" font-size="23" fill="#111" font-weight="bold" text-anchor="middle" textLength="42" lengthAdjust="spacingAndGlyphs" >Dec</text>
<g fill="#131313"><path d="M15.5 792.4H30.6V810.8H23.1V799.8H15.5Z"/><circle cx="36.2" cy="796.2" r="3.7"/><path d="M42.7 792.4H52.9L47.2 810.8H37.1Z"/></g>
<text x="62.2" y="810.8" font-size="25.2" fill="#131313" font-weight="bold" text-anchor="start" textLength="150.8" lengthAdjust="spacingAndGlyphs" stroke="#131313" stroke-width="0.5">TradingView</text>
</svg></body></html>
